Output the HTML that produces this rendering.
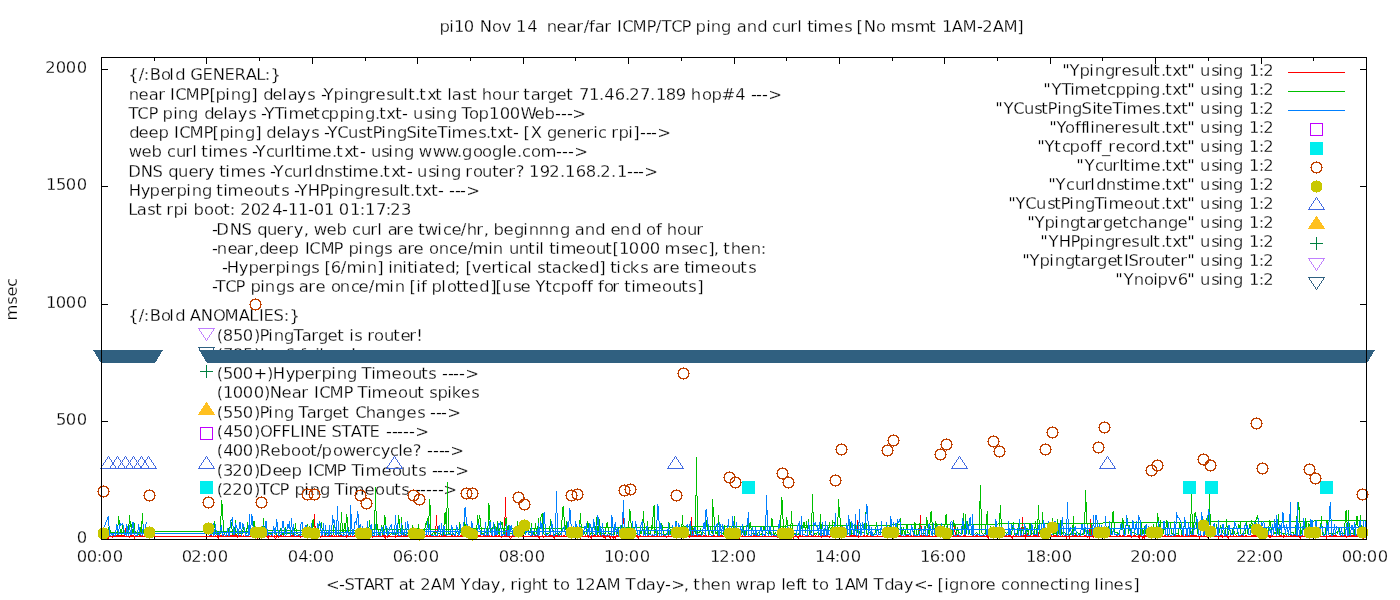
<!DOCTYPE html>
<html lang="en"><head><meta charset="utf-8"><title>pi10 Nov 14 near/far ICMP/TCP ping and curl times</title>
<style>html,body{margin:0;padding:0;background:#fff;overflow:hidden}svg{display:block}text{white-space:pre;font-family:"DejaVu Sans","Liberation Sans",sans-serif;font-size:16.4px;fill:#000;stroke:#fff;stroke-width:0.26px}.c{shape-rendering:crispEdges}</style></head><body>
<svg width="1400" height="600" viewBox="0 0 1400 600">
<rect width="1400" height="600" fill="#fff"/>
<defs>
<path id="oc" class="c" d="M-3 -5h7v1h-7zM-3 5h7v1h-7zM-4 -4h2v1h-2zM3 -4h2v1h-2zM-4 4h2v1h-2zM3 4h2v1h-2zM-5 -3h2v1h-2zM4 -3h2v1h-2zM-5 3h2v1h-2zM4 3h2v1h-2zM-5 -2h1v5h-1zM5 -2h1v5h-1zM0 -6h1v1h-1zM0 6h1v1h-1zM-6 0h1v1h-1zM6 0h1v1h-1z"/>
<path id="fc" class="c" d="M-3 -5h7v1h-7zM-4 -4h9v1h-9zM-5 -3h11v7h-11zM-4 4h9v1h-9zM-3 5h7v1h-7zM0 -6h1v1h-1zM0 6h1v1h-1z"/>
<path id="tu" class="c" d="M0 -8h1v1h-1zM-1 -7h1v1h-1zM1 -7h1v1h-1zM-1 -6h1v1h-1zM1 -6h1v1h-1zM-2 -5h1v1h-1zM2 -5h1v1h-1zM-3 -4h1v1h-1zM3 -4h1v1h-1zM-3 -3h1v1h-1zM3 -3h1v1h-1zM-4 -2h1v1h-1zM4 -2h1v1h-1zM-5 -1h1v1h-1zM5 -1h1v1h-1zM-5 0h1v1h-1zM5 0h1v1h-1zM-6 1h1v1h-1zM6 1h1v1h-1zM-7 2h1v1h-1zM7 2h1v1h-1zM-7 3h1v1h-1zM7 3h1v1h-1zM-8 4h17v1h-17z"/>
<path id="td" class="c" d="M-8 -4h17v1h-17zM-7 -3h1v1h-1zM7 -3h1v1h-1zM-7 -2h1v1h-1zM7 -2h1v1h-1zM-6 -1h1v1h-1zM6 -1h1v1h-1zM-5 0h1v1h-1zM5 0h1v1h-1zM-5 1h1v1h-1zM5 1h1v1h-1zM-4 2h1v1h-1zM4 2h1v1h-1zM-3 3h1v1h-1zM3 3h1v1h-1zM-3 4h1v1h-1zM3 4h1v1h-1zM-2 5h1v1h-1zM2 5h1v1h-1zM-1 6h1v1h-1zM1 6h1v1h-1zM-1 7h1v1h-1zM1 7h1v1h-1zM0 8h1v1h-1z"/>
<path id="tf" class="c" d="M0 -8h1v1h-1zM-1 -7h3v1h-3zM-1 -6h3v1h-3zM-2 -5h5v1h-5zM-3 -4h7v1h-7zM-3 -3h7v1h-7zM-4 -2h9v1h-9zM-5 -1h11v1h-11zM-5 0h11v1h-11zM-6 1h13v1h-13zM-7 2h15v1h-15zM-7 3h15v1h-15zM-8 4h17v1h-17z"/>
<path id="pl" class="c" d="M-6 0h13v1h-13zM0 -6h1v13h-1z"/>
<path id="sq" class="c" d="M-6 -6h13v1h-13zM-6 6h13v1h-13zM-6 -6h1v13h-1zM6 -6h1v13h-1z"/>
<path id="sf" class="c" d="M-6 -6h13v13h-13z"/>
</defs>
<text x="439.47 449.3 454.03 463.79 475 479.84 491.97 501.74 511 516.03 527.24 537 542 546.72 556.52 566.76 576.35 583.73 589 594.76 604.35 612 617.1 622.16 632.38 646.52 655.73 661.49 671.16 681.52 691 695.47 706.3 710.72 721.12 732 736.76 746.72 757.15 767 772.08 781 790.35 797.3 802 807.32 813.3 817.4 833.52 844.17 852 856.44 863.84 875.97 886 890.4 906.17 914.4 929.32 937 942.03 951.87 962.38 977.04 982.33 992.87 1003.38 1017.27" y="32" xml:space="preserve">pi10 Nov 14  near/far ICMP/TCP ping and curl times [No msmt 1AM-2AM]</text>
<text x="325.93 339.04 344.57 354.49 363.87 373.62 383.49 394 398.76 408.32 416 420.33 430.87 441.38 456 460.46 471.15 480.76 490.73 500.67 506 510.35 517.3 522.12 531.75 541.32 549 553.32 559.97 570 575.03 585.33 595.87 606.38 621 625.49 636.15 645.76 655.73 665.04 671.33 683.67 689 693.32 700.75 710.52 720.72 731 735.69 749.35 755.76 765.47 776 781.3 785.52 796 800.32 808 812.32 818.97 829 834.03 844.87 854.38 869 873.49 884.15 893.76 903.73 913.93 927.04 933 937.44 944.3 949.12 958.72 969.97 979.35 985.52 996 1001.08 1009.97 1019.72 1029.72 1039.52 1050.08 1058.32 1064.3 1069.72 1080.12 1090 1094.3 1099.3 1103.72 1113.52 1124.17 1133.27" y="590" xml:space="preserve">&lt;-START at 2AM Yday, right to 12AM Tday-&gt;, then wrap left to 1AM Tday&lt;- [ignore connecting lines]</text>
<text transform="translate(17,320) rotate(-90)" x="-0.6 15.17 23.52 33.08" y="0" xml:space="preserve">msec</text>
<text x="76.79" y="543" xml:space="preserve">0</text>
<text x="55.98 65.79 76.79" y="425" xml:space="preserve">500</text>
<text x="46.03 55.79 65.79 76.79" y="308" xml:space="preserve">1000</text>
<text x="46.03 55.98 65.79 76.79" y="190" xml:space="preserve">1500</text>
<text x="45.33 55.79 65.79 76.79" y="73" xml:space="preserve">2000</text>
<text x="76.79 86.79 96.68 101.79 112.79" y="562" xml:space="preserve">00:00</text>
<text x="181.79 191.33 201.68 206.79 217.79" y="562" xml:space="preserve">02:00</text>
<text x="287.79 298.24 307.68 312.79 323.79" y="562" xml:space="preserve">04:00</text>
<text x="392.79 402.76 412.68 417.79 428.79" y="562" xml:space="preserve">06:00</text>
<text x="498.79 508.8 518.68 523.79 534.79" y="562" xml:space="preserve">08:00</text>
<text x="604.03 613.79 623.68 628.79 639.79" y="562" xml:space="preserve">10:00</text>
<text x="710.03 719.33 729.68 734.79 745.79" y="562" xml:space="preserve">12:00</text>
<text x="815.03 825.24 834.68 839.79 850.79" y="562" xml:space="preserve">14:00</text>
<text x="920.03 929.76 939.68 944.79 955.79" y="562" xml:space="preserve">16:00</text>
<text x="1026.03 1035.8 1045.68 1050.79 1061.79" y="562" xml:space="preserve">18:00</text>
<text x="1130.33 1140.79 1150.68 1155.79 1166.79" y="562" xml:space="preserve">20:00</text>
<text x="1236.33 1246.33 1256.68 1261.79 1272.79" y="562" xml:space="preserve">22:00</text>
<text x="1341.79 1351.79 1361.68 1366.79 1377.79" y="562" xml:space="preserve">00:00</text>
<text x="128.22 138.73 143.68 149.86 160.97 169.3 175.15 185 190.13 202.55 212.84 224.55 234.62 245.87 256.19 264.68 270.38" y="80" xml:space="preserve">{/:Bold GENERAL:}</text>
<text x="128.72 138.52 148.76 158.35 165 170.1 175.16 185.38 199.52 209.44 215.47 225.3 230.72 241.12 251.27 258 263.15 272.52 282.3 287.76 296.73 307.17 315 321.04 323.46 333.47 344.3 348.72 359.12 368.35 375.52 386.17 394 403.3 408.32 414.89 419.32 427.19 435.32 443 447.3 451.76 462.17 470.32 477 481.75 491.97 502 512.35 519 523.32 530.76 540.35 547.12 556.52 566.32 574 578.94 589.03 598.89 604.24 614.76 624.89 629.33 639.94 649.89 656.03 665.8 675.82 686 690.75 701.97 711.47 721.62 735.24 745 751.04 756.04 762.04 768.33" y="100" xml:space="preserve">near ICMP[ping] delays -Ypingresult.txt last hour target 71.46.27.189 hop#4 ---&gt;</text>
<text x="128.49 137.16 148.52 158 162.47 173.3 177.72 188.12 199 204.15 213.52 223.3 227.76 237.73 248.17 256 261.04 264.46 274.49 283.3 288.4 304.52 313.32 321.08 328.47 339.47 349.3 353.72 365.12 374.89 379.32 386.19 395.32 402.04 408 413 424.17 431.3 435.72 447.12 457 461.49 468.97 478.47 489.03 499.79 509.79 520.52 534.52 544.47 555.04 561.04 567.04 572.33" y="119" xml:space="preserve">TCP ping delays -YTimetcpping.txt- using Top100Web---&gt;</text>
<text x="129.15 138.52 148.52 158.47 169 174.1 179.16 189.38 203.52 212.44 219.47 229.3 233.72 245.12 255.27 261 266.15 276.52 286.3 290.76 300.73 311.17 319 324.04 327.46 337.16 348 358.17 366.32 372.52 381.3 386.72 397.12 406.57 416.3 421.32 427.52 437.49 447.3 451.4 467.52 478.17 485.89 490.32 497.19 506.32 513.04 519 523.44 530.82 542 547.12 556.52 566.72 576.52 586.35 593.3 598.08 607 611.35 618.47 628.3 633.27 640.04 646.04 651.04 657.33" y="138" xml:space="preserve">deep ICMP[ping] delays -YCustPingSiteTimes.txt- [X generic rpi]---&gt;</text>
<text x="128.69 141.52 151.47 162 167.08 176 185.35 192.3 197 201.32 208.3 212.4 228.52 239.17 247 252.04 255.46 266.08 274 284.35 290.3 295.32 301.3 306.4 321.52 331.89 336.32 344.19 352.32 360.04 366 371 381.17 388.3 393.72 404.12 414 418.69 432.69 445.69 456.89 462.12 472.97 481.97 492.12 502.3 506.52 516.89 522.08 530.97 540.4 556.04 562.04 568.04 574.33" y="157" xml:space="preserve">web curl times -Ycurltime.txt- using www.google.com---&gt;</text>
<text x="128.29 140.84 152.57 163 168.16 178 188.52 198.35 204.73 215 219.32 225.3 230.4 246.52 257.17 265 270.04 273.46 284.08 292 302.35 308.3 314.15 323.72 334.17 342.32 348.3 352.4 368.52 378.89 383.32 391.19 399.32 407.04 412 417 428.17 435.3 440.72 451.12 461 465.35 472.97 482 492.32 498.52 508.35 515.71 524 529.03 539.82 549.33 559.89 565.03 575.76 585.8 595.89 600.33 610.89 617.03 627.04 633.04 638.04 644.33" y="177" xml:space="preserve">DNS query times -Ycurldnstime.txt- using router? 192.168.2.1---&gt;</text>
<text x="128.84 140.73 149.47 160.52 169.35 176.47 186.3 191.72 202.12 212 216.32 223.3 227.4 243.52 253.97 264 273.32 281.17 289 294.04 297.46 307.84 319.52 328.47 339.3 343.72 354.12 364.35 370.52 381.17 389 399.3 403.32 409.89 415.32 422.19 431.32 438.04 444 449.04 455.04 460.04 466.33" y="196" xml:space="preserve">Hyperping timeouts -YHPpingresult.txt- ---&gt;</text>
<text x="128.19 136.76 147.17 155.32 162 166.35 173.47 183.3 189 193.47 203.97 213.97 223.32 229.68 236 240.33 250.79 260.33 272.24 282.04 288.03 298.03 308.04 313.79 324.03 334 338.79 350.03 359.68 365.03 375.94 385.68 390.33 400.95" y="215" xml:space="preserve">Last rpi boot: 2024-11-01 01:17:23</text>
<text x="212.04 216.29 229.84 241.57 252 257.16 267 276.52 286.35 293.73 303.67 309 313.69 326.52 336.47 347 352.08 361 370.35 377.3 382 387.76 396.35 403.52 414 418.32 424.69 437.3 443.08 451.52 460.73 466.75 476.35 483.67 489 493.47 503.52 514.12 523.3 528.72 538.72 548.72 560.12 570 574.76 584.72 595.15 605 610.52 619.72 631.15 641 645.97 656 662 666.75 676.97 687 696.35" y="235" xml:space="preserve">-DNS query, web curl are twice/hr, beginnng and end of hour</text>
<text x="212.04 216.72 227.52 236.76 246.35 253.67 259.15 268.52 278.52 288.47 300 305.1 309.16 320.38 333.52 344 348.47 358.3 363.72 374.12 384.17 393 397.76 407.35 413.52 424 428.97 438.72 449.08 457.52 467.73 472.4 488.3 492.72 504 509 518.72 528.32 535.3 539.3 545 549.32 555.3 560.4 575.52 585.97 596 605.32 612.44 619.03 628.79 639.79 649.79 660 664.4 681.17 688.52 699.08 708.27 713.67 719 723.32 730.75 740.52 750.72 760.68" y="254" xml:space="preserve">-near,deep ICMP pings are once/min until timeout[1000 msec], then:</text>
<text x="222.04 226.84 238.73 248.47 258.52 268.35 275.47 285.3 290.72 301.12 311.17 319 324.44 330.76 340.73 346.4 361.3 366.72 377.27 383 388.3 392.72 402.3 407.32 413.3 418.76 428.32 434.52 445.15 454.66 461 465.44 471.74 481.52 491.35 497.32 504.3 509.08 517.76 527.3 532 537.17 545.32 551.76 562.08 570.69 578.52 589.15 599.27 606 610.32 616.3 622.08 629.69 640.17 648 652.76 662.35 669.52 679 684.32 690.3 694.4 710.52 720.97 731 740.32 748.17" y="273" xml:space="preserve">-Hyperpings [6/min] initiated; [vertical stacked] ticks are timeouts</text>
<text x="212.04 215.49 225.16 235.52 245 250.47 260.3 264.72 276.12 286.17 294 298.76 308.35 315.52 325 330.97 339.72 351.08 358.52 368.73 374.4 389.3 394.72 405 409.44 416.3 421 427 431.47 441.3 446.97 456.32 462.32 468.52 479.15 490.27 495.44 502 513.17 520.52 531 535.46 545.32 552.08 560.47 570.97 581 587 593 598 603.97 612.35 620 624.32 631.3 635.4 651.52 661.97 672 681.32 688.17 697.27" y="292" xml:space="preserve">-TCP pings are once/min [if plotted][use Ytcpoff for timeouts]</text>
<text x="128.22 138.73 143.68 149.86 160.97 169.3 175.15 185 189.87 200.84 213.04 224.38 238.87 249.19 259.1 263.55 273.57 283.68 289.38" y="321" xml:space="preserve">{/:Bold ANOMALIES:}</text>
<text x="216.63 222.8 232.98 242.79 254 259.52 268.3 273.72 284.12 293.49 301.76 311.35 318.12 327.52 337.32 345 349.3 354.17 362 367.35 373.97 384 393.32 400.52 409.35 416.26" y="341" xml:space="preserve">(850)PingTarget is router!</text>
<text x="216.63 222.94 232.8 242.98 254 260.1 264.47 274.74 284.76 295 300 305.76 315.3 319.3 325 334.35 340.52 350.26" y="360" xml:space="preserve">(785)Ipv6 failure!</text>
<text x="216.63 222.98 232.79 242.79 253.61 267 272.84 285.73 294.47 304.52 314.35 321.47 331.3 336.72 347.12 357 361.49 371.3 375.4 391.52 401.97 412 421.32 428.17 437 442.04 448.04 453.04 459.04 465.33" y="379" xml:space="preserve">(500+)Hyperping Timeouts ----&gt;</text>
<text x="216.63 223.03 232.79 242.79 253.79 264 269.84 281.52 291.76 301.35 309 314.1 319.16 329.38 343.52 353 357.49 367.3 371.4 387.52 397.97 408 417.32 424 429.17 437.47 447.3 451.69 460.52 471.17" y="398" xml:space="preserve">(1000)Near ICMP Timeout spikes</text>
<text x="216.63 222.98 232.98 242.79 254 259.52 268.3 273.72 284.12 294 298.49 306.76 316.35 323.12 332.52 342.32 350 355.16 365.75 375.76 385.72 396.12 406.52 417.17 425 430.04 436.04 441.04 447.33" y="418" xml:space="preserve">(550)Ping Target Changes ---&gt;</text>
<text x="216.63 223.24 232.98 242.79 254 260.04 272.29 281.29 290.19 300.1 304.84 316.55 327 331.57 341.49 350.87 360.49 369.55 381 386.04 392.04 397.04 403.04 409.04 415.33" y="437" xml:space="preserve">(450)OFFLINE STATE -----&gt;</text>
<text x="216.63 223.24 232.79 242.79 254 259.62 270.52 280.47 290.97 300.97 310.32 316.73 321.47 332.97 342.69 355.52 365.35 372.08 380.73 390.08 398.3 402.52 412.71 422 427.04 433.04 439.04 444.04 450.33" y="456" xml:space="preserve">(400)Reboot/powercycle? ----&gt;</text>
<text x="216.63 222.95 232.33 242.79 254 259.29 272.52 281.52 291.47 303 308.1 313.16 323.38 336.52 347 351.49 360.3 365.4 381.52 391.97 401 411.32 418.17 426 432.04 437.04 443.04 449.04 455.33" y="476" xml:space="preserve">(320)Deep ICMP Timeouts ----&gt;</text>
<text x="216.63 222.33 232.33 242.79 254 259.49 269.16 279.52 290 294.47 304.3 309.72 320.12 330 334.49 344.3 348.4 364.52 374.97 385 394.32 401.17 409 415.04 420.04 426.04 432.04 438.04 443.33" y="495" xml:space="preserve">(220)TCP ping Timeouts -----&gt;</text>
<text x="1062.3 1069.46 1079.47 1089.3 1094.72 1105.12 1114.35 1121.52 1131.17 1140 1149.3 1153.32 1160.89 1165.32 1172.19 1181.32 1187.3 1195 1200 1211.17 1218.3 1222.72 1233.12 1244 1249.03 1258.68 1263.33" y="76" xml:space="preserve">"Ypingresult.txt" using 1:2</text>
<text x="1043.3 1051.46 1061.49 1070.3 1074.4 1090.52 1100.32 1107.08 1115.47 1125.47 1135.3 1139.72 1150.12 1160.89 1165.32 1172.19 1181.32 1187.3 1195 1200 1211.17 1218.3 1222.72 1233.12 1244 1249.03 1258.68 1263.33" y="95" xml:space="preserve">"YTimetcpping.txt" using 1:2</text>
<text x="995.3 1003.46 1013.16 1024 1034.17 1041.32 1047.52 1057.3 1061.72 1072.12 1081.57 1092.3 1096.32 1102.52 1112.49 1122.3 1126.4 1142.52 1152.17 1160.89 1165.32 1172.19 1181.32 1187.3 1195 1200 1211.17 1218.3 1222.72 1233.12 1244 1249.03 1258.68 1263.33" y="114" xml:space="preserve">"YCustPingSiteTimes.txt" using 1:2</text>
<text x="1049.3 1056.46 1064.97 1075 1081 1085.3 1090.3 1094.72 1104.52 1114.35 1121.52 1131.17 1140 1149.3 1153.32 1160.89 1165.32 1172.19 1181.32 1187.3 1195 1200 1211.17 1218.3 1222.72 1233.12 1244 1249.03 1258.68 1263.33" y="133" xml:space="preserve">"Yofflineresult.txt" using 1:2</text>
<text x="1037.3 1044.46 1054.32 1062.08 1069.47 1079.97 1090 1096 1101.89 1108.35 1115.52 1126.08 1133.97 1143.35 1150.15 1160.89 1165.32 1172.19 1181.32 1187.3 1195 1200 1211.17 1218.3 1222.72 1233.12 1244 1249.03 1258.68 1263.33" y="152" xml:space="preserve">"Ytcpoff_record.txt" using 1:2</text>
<text x="1076.3 1084.46 1095.08 1103 1112.35 1119.3 1123.32 1130.3 1134.4 1150.52 1160.89 1165.32 1172.19 1181.32 1187.3 1195 1200 1211.17 1218.3 1222.72 1233.12 1244 1249.03 1258.68 1263.33" y="171" xml:space="preserve">"Ycurltime.txt" using 1:2</text>
<text x="1048.3 1055.46 1066.08 1075 1084.35 1090.3 1096.15 1105.72 1116.17 1123.32 1130.3 1134.4 1150.52 1160.89 1165.32 1172.19 1181.32 1187.3 1195 1200 1211.17 1218.3 1222.72 1233.12 1244 1249.03 1258.68 1263.33" y="190" xml:space="preserve">"Ycurldnstime.txt" using 1:2</text>
<text x="1008.3 1015.46 1025.16 1036 1047.17 1054.32 1060.52 1069.3 1074.72 1085.12 1094.49 1103.3 1108.4 1123.52 1133.97 1144 1153.32 1160.89 1165.32 1172.19 1181.32 1187.3 1195 1200 1211.17 1218.3 1222.72 1233.12 1244 1249.03 1258.68 1263.33" y="209" xml:space="preserve">"YCustPingTimeout.txt" using 1:2</text>
<text x="1027.3 1034.46 1044.47 1054.3 1059.72 1070.12 1079.32 1086.76 1095.35 1103.12 1112.52 1122.32 1129.08 1137.75 1147.76 1157.72 1168.12 1177.52 1187.3 1195 1200 1211.17 1218.3 1222.72 1233.12 1244 1249.03 1258.68 1263.33" y="228" xml:space="preserve">"Ypingtargetchange" using 1:2</text>
<text x="1040.3 1048.46 1058.84 1070.52 1079.47 1089.3 1094.72 1105.12 1114.35 1121.52 1131.17 1140 1149.3 1153.32 1160.89 1165.32 1172.19 1181.32 1187.3 1195 1200 1211.17 1218.3 1222.72 1233.12 1244 1249.03 1258.68 1263.33" y="247" xml:space="preserve">"YHPpingresult.txt" using 1:2</text>
<text x="1022.3 1029.46 1039.47 1049.3 1054.72 1065.12 1074.32 1080.76 1090.35 1097.12 1107.52 1116.32 1124.1 1128.57 1138.35 1144.97 1155 1164.32 1170.52 1180.35 1187.3 1195 1200 1211.17 1218.3 1222.72 1233.12 1244 1249.03 1258.68 1263.33" y="266" xml:space="preserve">"YpingtargetISrouter" using 1:2</text>
<text x="1115.3 1123.46 1133.72 1143.97 1153.3 1157.47 1167.74 1177.76 1187.3 1195 1200 1211.17 1218.3 1222.72 1233.12 1244 1249.03 1258.68 1263.33" y="285" xml:space="preserve">"Ynoipv6" using 1:2</text>
<path class="c" d="M101 539h7v1h-7zM1360 539h7v1h-7zM101 421h7v1h-7zM1360 421h7v1h-7zM101 304h7v1h-7zM1360 304h7v1h-7zM101 186h7v1h-7zM1360 186h7v1h-7zM101 69h7v1h-7zM1360 69h7v1h-7zM101 533h1v7h-1zM101 57h1v7h-1zM154 536h1v4h-1zM154 57h1v4h-1zM206 533h1v7h-1zM206 57h1v7h-1zM259 536h1v4h-1zM259 57h1v4h-1zM312 533h1v7h-1zM312 57h1v7h-1zM365 536h1v4h-1zM365 57h1v4h-1zM417 533h1v7h-1zM417 57h1v7h-1zM470 536h1v4h-1zM470 57h1v4h-1zM523 533h1v7h-1zM523 57h1v7h-1zM575 536h1v4h-1zM575 57h1v4h-1zM628 533h1v7h-1zM628 57h1v7h-1zM681 536h1v4h-1zM681 57h1v4h-1zM734 533h1v7h-1zM734 57h1v7h-1zM786 536h1v4h-1zM786 57h1v4h-1zM839 533h1v7h-1zM839 57h1v7h-1zM892 536h1v4h-1zM892 57h1v4h-1zM944 533h1v7h-1zM944 57h1v7h-1zM997 536h1v4h-1zM997 57h1v4h-1zM1050 533h1v7h-1zM1050 57h1v7h-1zM1102 536h1v4h-1zM1102 57h1v4h-1zM1155 533h1v7h-1zM1155 57h1v7h-1zM1208 536h1v4h-1zM1208 57h1v4h-1zM1261 533h1v7h-1zM1261 57h1v7h-1zM1313 536h1v4h-1zM1313 57h1v4h-1zM1366 533h1v7h-1zM1366 57h1v7h-1z" fill="#000"/>
<path class="c" d="M103 536v2h1v-2zM104 536v2h1v-2zM105 536v2h1v-2zM108 536v3h1v-3zM110 535v2h1v-2zM112 536v2h1v-2zM113 535v2h1v-2zM114 535v2h1v-2zM115 535v2h1v-2zM116 535v2h1v-2zM117 535v2h1v-2zM118 535v2h1v-2zM119 535v2h1v-2zM120 535v2h1v-2zM121 535v2h1v-2zM122 535v2h1v-2zM123 535v2h1v-2zM124 532v5h1v-5zM125 528v5h1v-5zM126 533v4h1v-4zM129 536v2h1v-2zM130 535v2h1v-2zM131 535v2h1v-2zM132 535v2h1v-2zM133 535v2h1v-2zM134 536v3h1v-3zM135 535v2h1v-2zM136 535v2h1v-2zM137 535v2h1v-2zM139 535v2h1v-2zM140 535v2h1v-2zM141 535v2h1v-2zM142 535v2h1v-2zM144 535v2h1v-2zM145 535v2h1v-2zM146 535v2h1v-2zM210 535v2h1v-2zM211 535v2h1v-2zM213 535v2h1v-2zM215 535v2h1v-2zM217 535v3h1v-3zM218 535v4h1v-4zM219 535v2h1v-2zM220 535v2h1v-2zM221 535v2h1v-2zM222 535v2h1v-2zM223 535v2h1v-2zM227 535v2h1v-2zM228 535v2h1v-2zM229 535v2h1v-2zM230 535v2h1v-2zM231 535v2h1v-2zM232 535v2h1v-2zM233 535v2h1v-2zM234 535v2h1v-2zM235 531v6h1v-6zM236 534v3h1v-3zM237 535v3h1v-3zM238 535v2h1v-2zM239 535v2h1v-2zM240 535v2h1v-2zM243 535v2h1v-2zM245 535v2h1v-2zM246 535v2h1v-2zM250 535v2h1v-2zM252 535v2h1v-2zM253 535v2h1v-2zM255 535v2h1v-2zM256 535v2h1v-2zM257 535v4h1v-4zM259 535v2h1v-2zM260 535v2h1v-2zM263 535v2h1v-2zM264 535v2h1v-2zM266 535v2h1v-2zM267 535v3h1v-3zM268 535v4h1v-4zM271 535v2h1v-2zM274 535v3h1v-3zM276 535v3h1v-3zM277 535v2h1v-2zM278 535v3h1v-3zM280 535v2h1v-2zM281 535v2h1v-2zM283 535v2h1v-2zM290 535v2h1v-2zM291 535v2h1v-2zM292 535v2h1v-2zM293 535v2h1v-2zM294 535v2h1v-2zM296 535v2h1v-2zM298 535v2h1v-2zM299 535v2h1v-2zM300 535v3h1v-3zM302 535v2h1v-2zM303 535v2h1v-2zM304 535v2h1v-2zM306 535v2h1v-2zM307 535v2h1v-2zM308 535v2h1v-2zM309 535v2h1v-2zM310 535v2h1v-2zM312 535v2h1v-2zM314 514v23h1v-23zM315 526v12h1v-12zM316 535v2h1v-2zM317 535v2h1v-2zM319 535v2h1v-2zM320 536v2h1v-2zM321 535v2h1v-2zM322 535v2h1v-2zM324 535v2h1v-2zM325 535v2h1v-2zM328 535v2h1v-2zM329 535v2h1v-2zM330 535v2h1v-2zM331 535v2h1v-2zM332 535v2h1v-2zM334 535v2h1v-2zM336 535v2h1v-2zM338 535v2h1v-2zM340 535v2h1v-2zM341 535v2h1v-2zM342 535v2h1v-2zM345 535v2h1v-2zM346 535v3h1v-3zM347 535v2h1v-2zM348 535v2h1v-2zM350 535v2h1v-2zM354 535v2h1v-2zM355 535v2h1v-2zM358 535v2h1v-2zM362 535v2h1v-2zM363 535v2h1v-2zM365 535v3h1v-3zM366 535v2h1v-2zM369 535v2h1v-2zM371 535v2h1v-2zM372 535v3h1v-3zM378 535v2h1v-2zM379 535v2h1v-2zM380 535v2h1v-2zM382 535v2h1v-2zM383 535v2h1v-2zM384 535v3h1v-3zM385 535v4h1v-4zM387 536v2h1v-2zM388 535v2h1v-2zM389 535v2h1v-2zM395 535v3h1v-3zM397 535v2h1v-2zM399 535v2h1v-2zM401 535v2h1v-2zM403 535v2h1v-2zM405 535v2h1v-2zM406 535v2h1v-2zM407 535v2h1v-2zM408 535v2h1v-2zM409 535v2h1v-2zM410 535v2h1v-2zM411 535v2h1v-2zM412 535v2h1v-2zM415 535v2h1v-2zM417 535v2h1v-2zM418 536v3h1v-3zM420 535v2h1v-2zM421 535v2h1v-2zM422 535v2h1v-2zM423 535v4h1v-4zM424 535v3h1v-3zM426 535v2h1v-2zM427 535v2h1v-2zM429 535v2h1v-2zM430 534v3h1v-3zM431 535v2h1v-2zM433 535v2h1v-2zM435 526v11h1v-11zM436 515v11h1v-11zM436 535v2h1v-2zM437 526v11h1v-11zM439 535v2h1v-2zM441 535v2h1v-2zM442 535v2h1v-2zM443 535v2h1v-2zM444 535v2h1v-2zM445 535v2h1v-2zM446 535v2h1v-2zM451 535v2h1v-2zM452 535v2h1v-2zM454 535v2h1v-2zM457 535v2h1v-2zM458 535v2h1v-2zM460 535v2h1v-2zM461 535v2h1v-2zM463 535v2h1v-2zM464 535v2h1v-2zM465 535v2h1v-2zM466 535v2h1v-2zM467 535v2h1v-2zM468 535v2h1v-2zM470 535v2h1v-2zM472 535v2h1v-2zM473 535v2h1v-2zM474 535v2h1v-2zM477 535v2h1v-2zM478 535v2h1v-2zM479 535v2h1v-2zM480 535v2h1v-2zM483 535v2h1v-2zM484 535v2h1v-2zM485 535v2h1v-2zM486 535v2h1v-2zM487 535v2h1v-2zM489 535v2h1v-2zM491 535v2h1v-2zM495 535v2h1v-2zM496 535v2h1v-2zM498 535v2h1v-2zM499 535v2h1v-2zM501 535v3h1v-3zM504 517v20h1v-20zM505 497v20h1v-20zM506 517v20h1v-20zM507 535v2h1v-2zM509 535v3h1v-3zM511 536v2h1v-2zM512 535v2h1v-2zM513 535v2h1v-2zM514 535v2h1v-2zM517 535v2h1v-2zM519 535v2h1v-2zM521 535v2h1v-2zM530 535v2h1v-2zM531 535v2h1v-2zM532 535v2h1v-2zM535 535v2h1v-2zM536 535v2h1v-2zM537 535v2h1v-2zM538 535v3h1v-3zM539 536v3h1v-3zM542 535v2h1v-2zM543 536v2h1v-2zM545 535v2h1v-2zM546 535v2h1v-2zM548 535v2h1v-2zM549 535v2h1v-2zM550 534v3h1v-3zM551 535v2h1v-2zM552 535v2h1v-2zM553 536v2h1v-2zM554 535v4h1v-4zM555 535v2h1v-2zM556 535v2h1v-2zM557 535v2h1v-2zM558 535v2h1v-2zM559 535v2h1v-2zM561 535v2h1v-2zM563 535v2h1v-2zM564 535v2h1v-2zM566 535v2h1v-2zM567 535v2h1v-2zM568 535v2h1v-2zM569 535v2h1v-2zM570 535v2h1v-2zM571 535v3h1v-3zM572 535v2h1v-2zM573 535v2h1v-2zM574 535v2h1v-2zM575 535v2h1v-2zM576 535v2h1v-2zM577 535v2h1v-2zM578 535v2h1v-2zM579 535v2h1v-2zM580 535v4h1v-4zM581 535v2h1v-2zM582 535v2h1v-2zM585 535v2h1v-2zM587 535v2h1v-2zM588 535v3h1v-3zM589 535v2h1v-2zM590 536v2h1v-2zM591 535v4h1v-4zM593 535v2h1v-2zM594 535v2h1v-2zM595 535v2h1v-2zM597 535v2h1v-2zM598 535v2h1v-2zM600 535v2h1v-2zM601 535v2h1v-2zM602 535v2h1v-2zM603 535v3h1v-3zM604 535v3h1v-3zM605 535v4h1v-4zM607 535v2h1v-2zM609 535v3h1v-3zM610 536v3h1v-3zM611 535v2h1v-2zM612 536v2h1v-2zM613 535v4h1v-4zM614 536v2h1v-2zM615 536v3h1v-3zM616 535v2h1v-2zM617 535v2h1v-2zM618 535v2h1v-2zM620 535v2h1v-2zM622 523v14h1v-14zM623 510v14h1v-14zM624 524v13h1v-13zM625 535v4h1v-4zM626 535v2h1v-2zM627 535v2h1v-2zM628 535v2h1v-2zM632 535v2h1v-2zM633 535v2h1v-2zM635 535v2h1v-2zM636 535v2h1v-2zM637 535v3h1v-3zM638 536v3h1v-3zM639 535v2h1v-2zM640 535v2h1v-2zM647 535v2h1v-2zM648 535v2h1v-2zM652 535v2h1v-2zM654 535v2h1v-2zM657 535v2h1v-2zM659 535v2h1v-2zM661 535v2h1v-2zM663 535v2h1v-2zM664 535v2h1v-2zM666 536v2h1v-2zM668 535v2h1v-2zM671 535v2h1v-2zM672 535v2h1v-2zM673 535v2h1v-2zM674 535v2h1v-2zM675 535v2h1v-2zM676 535v2h1v-2zM679 535v2h1v-2zM680 535v2h1v-2zM681 535v2h1v-2zM682 535v2h1v-2zM683 535v2h1v-2zM685 535v2h1v-2zM686 535v2h1v-2zM688 535v2h1v-2zM689 535v3h1v-3zM690 527v10h1v-10zM691 517v10h1v-10zM692 527v10h1v-10zM694 535v2h1v-2zM695 535v2h1v-2zM696 535v2h1v-2zM697 535v2h1v-2zM698 535v2h1v-2zM699 535v2h1v-2zM700 535v2h1v-2zM701 535v2h1v-2zM703 535v2h1v-2zM704 535v2h1v-2zM706 535v2h1v-2zM708 535v2h1v-2zM712 535v2h1v-2zM713 535v2h1v-2zM714 535v2h1v-2zM717 535v2h1v-2zM720 535v2h1v-2zM721 535v2h1v-2zM722 535v2h1v-2zM725 535v2h1v-2zM726 535v3h1v-3zM728 535v2h1v-2zM730 535v2h1v-2zM731 535v2h1v-2zM732 535v2h1v-2zM733 535v2h1v-2zM734 535v2h1v-2zM735 536v2h1v-2zM736 535v2h1v-2zM737 535v2h1v-2zM738 535v3h1v-3zM739 535v4h1v-4zM742 535v2h1v-2zM748 535v2h1v-2zM750 535v2h1v-2zM751 535v2h1v-2zM753 535v2h1v-2zM754 535v2h1v-2zM756 535v2h1v-2zM762 535v2h1v-2zM764 535v2h1v-2zM771 535v2h1v-2zM773 535v2h1v-2zM774 535v2h1v-2zM775 535v2h1v-2zM776 535v2h1v-2zM777 536v2h1v-2zM779 535v2h1v-2zM781 535v2h1v-2zM782 535v2h1v-2zM783 535v2h1v-2zM784 535v2h1v-2zM785 535v2h1v-2zM788 535v2h1v-2zM792 535v3h1v-3zM793 535v4h1v-4zM795 535v2h1v-2zM797 536v2h1v-2zM798 536v3h1v-3zM799 535v2h1v-2zM800 535v2h1v-2zM802 535v2h1v-2zM805 535v2h1v-2zM806 535v2h1v-2zM808 535v2h1v-2zM811 535v2h1v-2zM813 535v2h1v-2zM815 535v2h1v-2zM818 535v2h1v-2zM821 536v2h1v-2zM822 535v2h1v-2zM824 535v2h1v-2zM825 535v2h1v-2zM826 535v2h1v-2zM827 535v2h1v-2zM829 536v2h1v-2zM830 535v2h1v-2zM832 535v2h1v-2zM833 535v2h1v-2zM835 535v4h1v-4zM836 535v2h1v-2zM837 535v2h1v-2zM838 535v2h1v-2zM840 535v2h1v-2zM841 533v2h1v-2zM842 535v2h1v-2zM844 535v2h1v-2zM849 535v2h1v-2zM850 535v2h1v-2zM851 535v2h1v-2zM852 535v2h1v-2zM853 535v2h1v-2zM854 535v2h1v-2zM855 535v2h1v-2zM856 528v9h1v-9zM857 520v9h1v-9zM857 535v2h1v-2zM858 529v9h1v-9zM860 535v2h1v-2zM863 535v2h1v-2zM864 535v2h1v-2zM866 535v2h1v-2zM867 535v2h1v-2zM870 535v2h1v-2zM871 535v2h1v-2zM873 535v2h1v-2zM877 535v2h1v-2zM884 535v2h1v-2zM886 535v3h1v-3zM887 535v4h1v-4zM888 535v2h1v-2zM890 535v2h1v-2zM891 535v2h1v-2zM894 535v2h1v-2zM895 535v2h1v-2zM896 535v2h1v-2zM897 535v2h1v-2zM898 535v2h1v-2zM899 535v2h1v-2zM900 535v2h1v-2zM901 535v2h1v-2zM903 535v2h1v-2zM906 535v2h1v-2zM907 535v2h1v-2zM908 535v2h1v-2zM911 535v2h1v-2zM913 535v2h1v-2zM914 535v2h1v-2zM915 535v2h1v-2zM917 535v2h1v-2zM919 526v11h1v-11zM920 515v11h1v-11zM920 535v2h1v-2zM921 526v11h1v-11zM922 535v2h1v-2zM923 535v2h1v-2zM924 535v2h1v-2zM925 535v2h1v-2zM926 535v2h1v-2zM927 535v2h1v-2zM928 535v2h1v-2zM929 535v2h1v-2zM932 535v2h1v-2zM935 535v2h1v-2zM941 535v2h1v-2zM942 535v2h1v-2zM943 535v2h1v-2zM944 535v2h1v-2zM945 535v2h1v-2zM948 535v2h1v-2zM949 535v2h1v-2zM950 535v2h1v-2zM951 535v2h1v-2zM953 531v6h1v-6zM954 526v6h1v-6zM955 532v5h1v-5zM956 535v2h1v-2zM957 535v2h1v-2zM958 535v2h1v-2zM963 535v2h1v-2zM964 535v2h1v-2zM965 535v2h1v-2zM972 535v2h1v-2zM973 535v2h1v-2zM975 535v2h1v-2zM976 535v2h1v-2zM977 535v2h1v-2zM980 535v2h1v-2zM981 535v2h1v-2zM982 535v2h1v-2zM983 535v2h1v-2zM984 535v2h1v-2zM986 535v2h1v-2zM987 535v3h1v-3zM988 535v4h1v-4zM992 535v2h1v-2zM993 535v2h1v-2zM994 535v2h1v-2zM995 535v2h1v-2zM996 535v2h1v-2zM998 535v2h1v-2zM999 535v2h1v-2zM1000 535v2h1v-2zM1001 535v2h1v-2zM1002 535v2h1v-2zM1004 535v2h1v-2zM1006 535v2h1v-2zM1008 535v2h1v-2zM1009 535v2h1v-2zM1010 535v2h1v-2zM1011 536v2h1v-2zM1012 536v3h1v-3zM1013 535v2h1v-2zM1015 535v2h1v-2zM1016 535v2h1v-2zM1018 535v2h1v-2zM1020 535v2h1v-2zM1021 527v10h1v-10zM1022 517v10h1v-10zM1023 527v10h1v-10zM1024 535v2h1v-2zM1025 534v5h1v-5zM1026 529v5h1v-5zM1026 535v2h1v-2zM1027 533v4h1v-4zM1028 535v2h1v-2zM1030 535v2h1v-2zM1033 535v2h1v-2zM1034 535v2h1v-2zM1035 535v2h1v-2zM1036 535v2h1v-2zM1037 535v2h1v-2zM1038 532v5h1v-5zM1039 527v5h1v-5zM1040 532v5h1v-5zM1041 535v2h1v-2zM1042 528v9h1v-9zM1043 520v9h1v-9zM1044 529v8h1v-8zM1045 535v2h1v-2zM1046 535v2h1v-2zM1047 535v2h1v-2zM1048 535v2h1v-2zM1051 535v2h1v-2zM1053 535v2h1v-2zM1054 535v2h1v-2zM1055 535v2h1v-2zM1056 535v2h1v-2zM1057 535v2h1v-2zM1058 535v2h1v-2zM1060 535v2h1v-2zM1062 535v2h1v-2zM1064 535v2h1v-2zM1065 535v2h1v-2zM1066 536v3h1v-3zM1068 535v2h1v-2zM1069 535v4h1v-4zM1072 535v2h1v-2zM1073 535v2h1v-2zM1074 535v2h1v-2zM1075 535v2h1v-2zM1076 535v2h1v-2zM1077 535v2h1v-2zM1079 535v2h1v-2zM1080 535v2h1v-2zM1084 535v2h1v-2zM1085 535v2h1v-2zM1086 535v2h1v-2zM1087 536v2h1v-2zM1088 535v2h1v-2zM1089 529v10h1v-10zM1090 519v10h1v-10zM1091 528v9h1v-9zM1092 535v2h1v-2zM1093 536v2h1v-2zM1095 535v2h1v-2zM1099 535v2h1v-2zM1101 535v2h1v-2zM1103 535v2h1v-2zM1104 535v2h1v-2zM1105 535v2h1v-2zM1106 535v2h1v-2zM1109 535v2h1v-2zM1110 535v2h1v-2zM1116 535v2h1v-2zM1117 535v2h1v-2zM1119 535v2h1v-2zM1120 535v2h1v-2zM1122 535v2h1v-2zM1123 533v4h1v-4zM1124 530v7h1v-7zM1127 535v2h1v-2zM1128 535v2h1v-2zM1129 535v2h1v-2zM1130 535v2h1v-2zM1131 535v3h1v-3zM1133 535v2h1v-2zM1134 535v2h1v-2zM1135 535v2h1v-2zM1138 535v3h1v-3zM1139 535v4h1v-4zM1140 535v2h1v-2zM1141 535v2h1v-2zM1142 536v3h1v-3zM1143 536v2h1v-2zM1144 535v4h1v-4zM1145 535v2h1v-2zM1146 535v2h1v-2zM1147 535v2h1v-2zM1149 535v2h1v-2zM1150 535v2h1v-2zM1153 535v2h1v-2zM1155 535v2h1v-2zM1159 535v2h1v-2zM1160 535v2h1v-2zM1161 535v2h1v-2zM1164 535v2h1v-2zM1165 535v2h1v-2zM1167 535v2h1v-2zM1168 535v2h1v-2zM1171 535v2h1v-2zM1173 535v2h1v-2zM1174 535v2h1v-2zM1175 535v2h1v-2zM1176 535v2h1v-2zM1177 535v2h1v-2zM1178 535v2h1v-2zM1179 535v2h1v-2zM1181 535v2h1v-2zM1182 535v2h1v-2zM1183 535v2h1v-2zM1185 534v3h1v-3zM1186 531v3h1v-3zM1187 534v3h1v-3zM1188 535v2h1v-2zM1189 535v2h1v-2zM1190 535v2h1v-2zM1191 535v2h1v-2zM1192 535v2h1v-2zM1193 535v2h1v-2zM1194 535v2h1v-2zM1195 535v2h1v-2zM1196 535v2h1v-2zM1198 535v2h1v-2zM1199 536v3h1v-3zM1200 535v2h1v-2zM1201 535v2h1v-2zM1203 535v2h1v-2zM1204 535v2h1v-2zM1207 536v2h1v-2zM1208 535v2h1v-2zM1209 535v2h1v-2zM1211 535v2h1v-2zM1213 535v2h1v-2zM1214 535v2h1v-2zM1215 535v2h1v-2zM1216 535v2h1v-2zM1218 535v4h1v-4zM1220 535v2h1v-2zM1221 535v2h1v-2zM1222 535v3h1v-3zM1225 535v2h1v-2zM1226 535v2h1v-2zM1227 536v2h1v-2zM1228 536v3h1v-3zM1230 535v2h1v-2zM1233 535v2h1v-2zM1236 535v2h1v-2zM1239 535v2h1v-2zM1241 535v2h1v-2zM1242 535v2h1v-2zM1245 535v2h1v-2zM1246 535v2h1v-2zM1251 535v2h1v-2zM1252 535v2h1v-2zM1253 535v2h1v-2zM1254 535v2h1v-2zM1255 535v2h1v-2zM1258 535v2h1v-2zM1259 535v2h1v-2zM1260 535v2h1v-2zM1261 535v2h1v-2zM1262 535v2h1v-2zM1263 535v2h1v-2zM1264 535v2h1v-2zM1265 535v2h1v-2zM1266 535v2h1v-2zM1267 535v2h1v-2zM1268 535v2h1v-2zM1269 535v3h1v-3zM1270 535v3h1v-3zM1271 535v2h1v-2zM1272 535v2h1v-2zM1276 535v2h1v-2zM1279 535v2h1v-2zM1280 535v2h1v-2zM1281 535v2h1v-2zM1283 535v3h1v-3zM1284 535v2h1v-2zM1286 535v2h1v-2zM1288 535v2h1v-2zM1290 535v2h1v-2zM1291 535v2h1v-2zM1292 535v2h1v-2zM1293 535v2h1v-2zM1294 535v2h1v-2zM1295 535v2h1v-2zM1298 535v2h1v-2zM1299 536v2h1v-2zM1300 536v3h1v-3zM1302 535v2h1v-2zM1304 535v2h1v-2zM1306 535v2h1v-2zM1308 535v2h1v-2zM1309 535v2h1v-2zM1311 535v2h1v-2zM1312 535v2h1v-2zM1315 535v2h1v-2zM1317 535v2h1v-2zM1319 535v2h1v-2zM1320 535v2h1v-2zM1323 535v2h1v-2zM1326 535v4h1v-4zM1329 535v2h1v-2zM1330 535v2h1v-2zM1333 535v2h1v-2zM1334 535v2h1v-2zM1335 535v2h1v-2zM1336 535v2h1v-2zM1340 535v2h1v-2zM1341 535v2h1v-2zM1342 535v2h1v-2zM1343 535v2h1v-2zM1344 535v2h1v-2zM1345 535v2h1v-2zM1346 536v2h1v-2zM1347 535v2h1v-2zM1348 535v2h1v-2zM1349 535v2h1v-2zM1351 535v2h1v-2zM1352 535v2h1v-2zM1353 535v2h1v-2zM1354 535v2h1v-2zM1355 535v2h1v-2zM1356 535v2h1v-2zM1358 535v2h1v-2zM1359 535v2h1v-2zM1360 535v3h1v-3zM1361 535v2h1v-2zM1362 535v3h1v-3zM1363 536v3h1v-3zM1364 535v2h1v-2zM1365 535v2h1v-2zM101 536h2v1h-2zM106 536h2v1h-2zM109 536h1v1h-1zM111 536h1v1h-1zM125 536h1v1h-1zM127 536h2v1h-2zM138 536h1v1h-1zM143 536h1v1h-1zM147 536h63v1h-63zM212 536h1v1h-1zM214 536h1v1h-1zM216 536h1v1h-1zM224 536h3v1h-3zM241 536h2v1h-2zM244 536h1v1h-1zM247 536h3v1h-3zM251 536h1v1h-1zM254 536h1v1h-1zM258 536h1v1h-1zM261 536h2v1h-2zM265 536h1v1h-1zM269 536h2v1h-2zM272 536h2v1h-2zM275 536h1v1h-1zM279 536h1v1h-1zM282 536h1v1h-1zM284 536h6v1h-6zM295 536h1v1h-1zM297 536h1v1h-1zM301 536h1v1h-1zM305 536h1v1h-1zM311 536h1v1h-1zM313 536h1v1h-1zM318 536h1v1h-1zM323 536h1v1h-1zM326 536h2v1h-2zM333 536h1v1h-1zM335 536h1v1h-1zM337 536h1v1h-1zM339 536h1v1h-1zM343 536h2v1h-2zM349 536h1v1h-1zM351 536h3v1h-3zM356 536h2v1h-2zM359 536h3v1h-3zM364 536h1v1h-1zM367 536h2v1h-2zM370 536h1v1h-1zM373 536h5v1h-5zM381 536h1v1h-1zM386 536h1v1h-1zM390 536h5v1h-5zM396 536h1v1h-1zM398 536h1v1h-1zM400 536h1v1h-1zM402 536h1v1h-1zM404 536h1v1h-1zM413 536h2v1h-2zM416 536h1v1h-1zM419 536h1v1h-1zM425 536h1v1h-1zM428 536h1v1h-1zM432 536h1v1h-1zM434 536h1v1h-1zM438 536h1v1h-1zM440 536h1v1h-1zM447 536h4v1h-4zM453 536h1v1h-1zM455 536h2v1h-2zM459 536h1v1h-1zM462 536h1v1h-1zM469 536h1v1h-1zM471 536h1v1h-1zM475 536h2v1h-2zM481 536h2v1h-2zM488 536h1v1h-1zM490 536h1v1h-1zM492 536h3v1h-3zM497 536h1v1h-1zM500 536h1v1h-1zM502 536h2v1h-2zM505 536h1v1h-1zM508 536h1v1h-1zM510 536h1v1h-1zM515 536h2v1h-2zM518 536h1v1h-1zM520 536h1v1h-1zM522 536h8v1h-8zM533 536h2v1h-2zM540 536h2v1h-2zM544 536h1v1h-1zM547 536h1v1h-1zM560 536h1v1h-1zM562 536h1v1h-1zM565 536h1v1h-1zM583 536h2v1h-2zM586 536h1v1h-1zM592 536h1v1h-1zM596 536h1v1h-1zM599 536h1v1h-1zM606 536h1v1h-1zM608 536h1v1h-1zM619 536h1v1h-1zM621 536h1v1h-1zM623 536h1v1h-1zM629 536h3v1h-3zM634 536h1v1h-1zM641 536h6v1h-6zM649 536h3v1h-3zM653 536h1v1h-1zM655 536h2v1h-2zM658 536h1v1h-1zM660 536h1v1h-1zM662 536h1v1h-1zM665 536h1v1h-1zM667 536h1v1h-1zM669 536h2v1h-2zM677 536h2v1h-2zM684 536h1v1h-1zM687 536h1v1h-1zM691 536h1v1h-1zM693 536h1v1h-1zM702 536h1v1h-1zM705 536h1v1h-1zM707 536h1v1h-1zM709 536h3v1h-3zM715 536h2v1h-2zM718 536h2v1h-2zM723 536h2v1h-2zM727 536h1v1h-1zM729 536h1v1h-1zM740 536h2v1h-2zM743 536h5v1h-5zM749 536h1v1h-1zM752 536h1v1h-1zM755 536h1v1h-1zM757 536h5v1h-5zM763 536h1v1h-1zM765 536h6v1h-6zM772 536h1v1h-1zM778 536h1v1h-1zM780 536h1v1h-1zM786 536h2v1h-2zM789 536h3v1h-3zM794 536h1v1h-1zM796 536h1v1h-1zM801 536h1v1h-1zM803 536h2v1h-2zM807 536h1v1h-1zM809 536h2v1h-2zM812 536h1v1h-1zM814 536h1v1h-1zM816 536h2v1h-2zM819 536h2v1h-2zM823 536h1v1h-1zM828 536h1v1h-1zM831 536h1v1h-1zM834 536h1v1h-1zM839 536h1v1h-1zM841 536h1v1h-1zM843 536h1v1h-1zM845 536h4v1h-4zM859 536h1v1h-1zM861 536h2v1h-2zM865 536h1v1h-1zM868 536h2v1h-2zM872 536h1v1h-1zM874 536h3v1h-3zM878 536h6v1h-6zM885 536h1v1h-1zM889 536h1v1h-1zM892 536h2v1h-2zM902 536h1v1h-1zM904 536h2v1h-2zM909 536h2v1h-2zM912 536h1v1h-1zM916 536h1v1h-1zM918 536h1v1h-1zM930 536h2v1h-2zM933 536h2v1h-2zM936 536h5v1h-5zM946 536h2v1h-2zM952 536h1v1h-1zM954 536h1v1h-1zM959 536h4v1h-4zM966 536h6v1h-6zM974 536h1v1h-1zM978 536h2v1h-2zM985 536h1v1h-1zM989 536h3v1h-3zM997 536h1v1h-1zM1003 536h1v1h-1zM1005 536h1v1h-1zM1007 536h1v1h-1zM1014 536h1v1h-1zM1017 536h1v1h-1zM1019 536h1v1h-1zM1022 536h1v1h-1zM1029 536h1v1h-1zM1031 536h2v1h-2zM1039 536h1v1h-1zM1043 536h1v1h-1zM1049 536h2v1h-2zM1052 536h1v1h-1zM1059 536h1v1h-1zM1061 536h1v1h-1zM1063 536h1v1h-1zM1067 536h1v1h-1zM1070 536h2v1h-2zM1078 536h1v1h-1zM1081 536h3v1h-3zM1090 536h1v1h-1zM1094 536h1v1h-1zM1096 536h3v1h-3zM1100 536h1v1h-1zM1102 536h1v1h-1zM1107 536h2v1h-2zM1111 536h5v1h-5zM1118 536h1v1h-1zM1121 536h1v1h-1zM1125 536h2v1h-2zM1132 536h1v1h-1zM1136 536h2v1h-2zM1148 536h1v1h-1zM1151 536h2v1h-2zM1154 536h1v1h-1zM1156 536h3v1h-3zM1162 536h2v1h-2zM1166 536h1v1h-1zM1169 536h2v1h-2zM1172 536h1v1h-1zM1180 536h1v1h-1zM1184 536h1v1h-1zM1186 536h1v1h-1zM1197 536h1v1h-1zM1202 536h1v1h-1zM1205 536h2v1h-2zM1210 536h1v1h-1zM1212 536h1v1h-1zM1217 536h1v1h-1zM1219 536h1v1h-1zM1223 536h2v1h-2zM1229 536h1v1h-1zM1231 536h2v1h-2zM1234 536h2v1h-2zM1237 536h2v1h-2zM1240 536h1v1h-1zM1243 536h2v1h-2zM1247 536h4v1h-4zM1256 536h2v1h-2zM1273 536h3v1h-3zM1277 536h2v1h-2zM1282 536h1v1h-1zM1285 536h1v1h-1zM1287 536h1v1h-1zM1289 536h1v1h-1zM1296 536h2v1h-2zM1301 536h1v1h-1zM1303 536h1v1h-1zM1305 536h1v1h-1zM1307 536h1v1h-1zM1310 536h1v1h-1zM1313 536h2v1h-2zM1316 536h1v1h-1zM1318 536h1v1h-1zM1321 536h2v1h-2zM1324 536h2v1h-2zM1327 536h2v1h-2zM1331 536h2v1h-2zM1337 536h3v1h-3zM1350 536h1v1h-1zM1357 536h1v1h-1zM1366 536h1v1h-1zM106 538h2v1h-2zM275 538h1v1h-1zM510 538h1v1h-1z" fill="#ff0000"/>
<path class="c" d="M103 532v2h1v-2zM104 532v2h1v-2zM105 532v2h1v-2zM107 531v4h1v-4zM108 527v4h1v-4zM109 527v3h1v-3zM110 530v4h1v-4zM112 532v3h1v-3zM113 532v2h1v-2zM114 532v2h1v-2zM116 532v2h1v-2zM117 525v10h1v-10zM118 516v9h1v-9zM119 520v9h1v-9zM120 529v5h1v-5zM121 529v6h1v-6zM122 524v5h1v-5zM123 529v5h1v-5zM126 532v3h1v-3zM127 532v2h1v-2zM128 524v10h1v-10zM129 515v9h1v-9zM130 521v6h1v-6zM131 524v5h1v-5zM132 529v5h1v-5zM133 528v5h1v-5zM134 523v8h1v-8zM135 531v3h1v-3zM136 532v2h1v-2zM140 527v7h1v-7zM141 521v12h1v-12zM142 513v11h1v-11zM143 524v10h1v-10zM208 533v2h1v-2zM209 531v3h1v-3zM210 533v2h1v-2zM211 531v2h1v-2zM213 527v8h1v-8zM214 521v7h1v-7zM215 528v6h1v-6zM220 516v18h1v-18zM221 500v16h1v-16zM222 504v16h1v-16zM223 520v13h1v-13zM225 531v2h1v-2zM226 531v3h1v-3zM227 528v4h1v-4zM228 528v6h1v-6zM229 527v8h1v-8zM230 520v7h1v-7zM231 522v7h1v-7zM232 529v6h1v-6zM233 531v2h1v-2zM234 527v7h1v-7zM235 520v14h1v-14zM242 530v4h1v-4zM243 526v4h1v-4zM244 530v3h1v-3zM246 528v6h1v-6zM247 522v7h1v-7zM248 529v6h1v-6zM249 525v7h1v-7zM250 527v2h1v-2zM251 529v3h1v-3zM252 527v7h1v-7zM253 521v6h1v-6zM254 521v7h1v-7zM255 528v6h1v-6zM256 531v4h1v-4zM259 533v2h1v-2zM262 526v9h1v-9zM263 518v8h1v-8zM264 526v8h1v-8zM265 530v4h1v-4zM271 532v3h1v-3zM272 533v2h1v-2zM276 533v2h1v-2zM278 532v2h1v-2zM279 530v4h1v-4zM280 528v3h1v-3zM281 528v4h1v-4zM282 532v3h1v-3zM283 533v2h1v-2zM284 530v3h1v-3zM285 527v7h1v-7zM291 530v4h1v-4zM292 528v4h1v-4zM293 532v3h1v-3zM294 528v6h1v-6zM295 523v6h1v-6zM296 529v5h1v-5zM300 532v2h1v-2zM303 532v2h1v-2zM306 529v5h1v-5zM307 524v9h1v-9zM308 527v4h1v-4zM309 526v5h1v-5zM310 530v4h1v-4zM311 528v7h1v-7zM312 520v8h1v-8zM313 519v8h1v-8zM314 527v8h1v-8zM317 529v5h1v-5zM318 524v5h1v-5zM319 523v3h1v-3zM320 525v3h1v-3zM321 522v6h1v-6zM322 528v5h1v-5zM324 532v2h1v-2zM325 533v2h1v-2zM328 533v2h1v-2zM329 532v3h1v-3zM331 525v10h1v-10zM332 515v10h1v-10zM333 525v10h1v-10zM336 533v2h1v-2zM340 523v12h1v-12zM341 512v11h1v-11zM342 523v10h1v-10zM343 529v6h1v-6zM344 523v6h1v-6zM345 523v10h1v-10zM346 514v9h1v-9zM347 517v10h1v-10zM348 527v7h1v-7zM350 532v2h1v-2zM358 526v7h1v-7zM359 530v4h1v-4zM362 533v2h1v-2zM365 532v2h1v-2zM367 532v2h1v-2zM368 527v8h1v-8zM369 520v7h1v-7zM370 527v7h1v-7zM372 533v2h1v-2zM374 510v24h1v-24zM375 487v24h1v-24zM376 511v23h1v-23zM377 524v6h1v-6zM378 529v6h1v-6zM379 533v2h1v-2zM380 529v6h1v-6zM381 525v5h1v-5zM382 529v6h1v-6zM383 525v10h1v-10zM384 515v10h1v-10zM385 517v9h1v-9zM386 526v8h1v-8zM387 532v2h1v-2zM393 533v2h1v-2zM394 532v2h1v-2zM395 533v2h1v-2zM397 524v10h1v-10zM398 515v9h1v-9zM399 519v9h1v-9zM400 528v6h1v-6zM401 517v17h1v-17zM402 525v8h1v-8zM411 529v5h1v-5zM412 525v5h1v-5zM413 527v4h1v-4zM414 531v3h1v-3zM417 528v5h1v-5zM418 524v6h1v-6zM419 529v6h1v-6zM423 533v2h1v-2zM424 528v6h1v-6zM425 523v5h1v-5zM426 521v4h1v-4zM427 518v8h1v-8zM428 516v17h1v-17zM429 499v17h1v-17zM430 505v29h1v-29zM432 533v2h1v-2zM434 532v2h1v-2zM435 533v2h1v-2zM437 532v2h1v-2zM443 525v10h1v-10zM444 513v12h1v-12zM445 512v12h1v-12zM446 508v27h1v-27zM447 482v26h1v-26zM448 508v26h1v-26zM452 533v2h1v-2zM459 522v11h1v-11zM460 528v5h1v-5zM462 532v2h1v-2zM463 528v7h1v-7zM464 522v6h1v-6zM465 524v6h1v-6zM466 529v6h1v-6zM468 532v2h1v-2zM473 532v3h1v-3zM476 525v10h1v-10zM477 515v10h1v-10zM478 519v4h1v-4zM479 515v4h1v-4zM480 518v9h1v-9zM481 527v8h1v-8zM484 533v2h1v-2zM487 526v8h1v-8zM488 503v23h1v-23zM489 505v15h1v-15zM490 520v13h1v-13zM491 530v4h1v-4zM492 527v3h1v-3zM493 526v3h1v-3zM494 524v5h1v-5zM495 528v7h1v-7zM496 527v7h1v-7zM497 521v8h1v-8zM498 528v6h1v-6zM499 528v7h1v-7zM500 521v8h1v-8zM501 522v3h1v-3zM502 522v7h1v-7zM503 528v6h1v-6zM504 526v9h1v-9zM505 518v8h1v-8zM506 518v8h1v-8zM507 526v8h1v-8zM508 525v5h1v-5zM509 530v5h1v-5zM516 528v6h1v-6zM517 521v8h1v-8zM518 528v7h1v-7zM523 530v5h1v-5zM524 525v9h1v-9zM525 533v2h1v-2zM526 530v3h1v-3zM527 527v3h1v-3zM528 528v3h1v-3zM529 531v2h1v-2zM530 528v5h1v-5zM531 523v12h1v-12zM533 532v2h1v-2zM534 528v7h1v-7zM535 523v6h1v-6zM536 528v6h1v-6zM537 526v8h1v-8zM538 518v16h1v-16zM539 527v7h1v-7zM540 517v10h1v-10zM541 514v3h1v-3zM542 513v11h1v-11zM543 524v10h1v-10zM546 533v2h1v-2zM549 526v7h1v-7zM550 519v7h1v-7zM551 523v4h1v-4zM552 526v4h1v-4zM553 530v5h1v-5zM557 532v2h1v-2zM558 533v2h1v-2zM561 520v14h1v-14zM562 507v13h1v-13zM563 506v11h1v-11zM564 517v12h1v-12zM565 525v5h1v-5zM566 521v8h1v-8zM567 528v7h1v-7zM569 532v2h1v-2zM574 533v2h1v-2zM578 530v4h1v-4zM579 520v10h1v-10zM580 513v11h1v-11zM581 524v10h1v-10zM582 533v2h1v-2zM584 532v2h1v-2zM586 527v7h1v-7zM587 521v7h1v-7zM588 523v5h1v-5zM589 527v7h1v-7zM590 533v2h1v-2zM591 532v2h1v-2zM595 526v8h1v-8zM596 517v9h1v-9zM597 526v9h1v-9zM598 526v7h1v-7zM599 519v9h1v-9zM600 527v8h1v-8zM603 532v2h1v-2zM605 527v7h1v-7zM606 523v5h1v-5zM607 522v6h1v-6zM608 527v7h1v-7zM614 530v5h1v-5zM615 525v5h1v-5zM616 529v4h1v-4zM617 531v3h1v-3zM618 527v7h1v-7zM620 529v4h1v-4zM621 525v5h1v-5zM622 530v4h1v-4zM624 531v4h1v-4zM625 527v8h1v-8zM626 527v4h1v-4zM627 531v3h1v-3zM628 521v13h1v-13zM629 509v12h1v-12zM630 511v12h1v-12zM631 523v12h1v-12zM632 533v2h1v-2zM637 532v2h1v-2zM640 527v7h1v-7zM641 530v4h1v-4zM642 519v11h1v-11zM643 511v12h1v-12zM644 523v11h1v-11zM647 521v14h1v-14zM648 527v7h1v-7zM650 530v5h1v-5zM651 525v5h1v-5zM652 517v12h1v-12zM653 506v11h1v-11zM654 505v30h1v-30zM655 529v4h1v-4zM656 525v5h1v-5zM657 530v5h1v-5zM661 523v12h1v-12zM662 525v5h1v-5zM663 530v4h1v-4zM668 522v13h1v-13zM669 523v6h1v-6zM670 529v5h1v-5zM675 527v8h1v-8zM676 521v13h1v-13zM681 524v10h1v-10zM682 515v10h1v-10zM683 525v9h1v-9zM686 530v5h1v-5zM687 525v5h1v-5zM688 530v5h1v-5zM690 530v5h1v-5zM691 526v4h1v-4zM693 528v2h1v-2zM694 530v2h1v-2zM695 495v39h1v-39zM696 457v39h1v-39zM697 496v39h1v-39zM699 530v3h1v-3zM700 528v4h1v-4zM701 532v3h1v-3zM705 526v8h1v-8zM706 520v7h1v-7zM707 523v7h1v-7zM708 530v5h1v-5zM709 530v4h1v-4zM710 526v4h1v-4zM711 530v3h1v-3zM712 499v35h1v-35zM713 507v10h1v-10zM714 517v10h1v-10zM715 526v8h1v-8zM716 532v2h1v-2zM717 525v10h1v-10zM718 515v10h1v-10zM719 525v10h1v-10zM723 530v5h1v-5zM724 525v5h1v-5zM725 530v5h1v-5zM726 532v2h1v-2zM728 533v2h1v-2zM733 525v9h1v-9zM734 516v17h1v-17zM738 533v2h1v-2zM741 532v2h1v-2zM742 530v3h1v-3zM743 526v5h1v-5zM744 531v4h1v-4zM746 526v9h1v-9zM747 519v8h1v-8zM748 526v9h1v-9zM749 523v6h1v-6zM750 522v6h1v-6zM751 528v5h1v-5zM757 533v2h1v-2zM759 532v2h1v-2zM761 533v2h1v-2zM762 530v4h1v-4zM763 526v4h1v-4zM764 526v4h1v-4zM765 530v3h1v-3zM769 530v4h1v-4zM770 526v9h1v-9zM771 518v9h1v-9zM772 519v8h1v-8zM773 526v8h1v-8zM774 533v2h1v-2zM775 532v2h1v-2zM780 515v19h1v-19zM781 497v18h1v-18zM782 500v19h1v-19zM783 519v16h1v-16zM784 533v2h1v-2zM785 525v9h1v-9zM786 517v8h1v-8zM787 520v8h1v-8zM788 528v6h1v-6zM790 524v11h1v-11zM791 511v13h1v-13zM792 523v11h1v-11zM798 533v2h1v-2zM799 532v3h1v-3zM800 529v6h1v-6zM801 524v5h1v-5zM802 528v6h1v-6zM803 522v6h1v-6zM804 522v6h1v-6zM805 527v6h1v-6zM806 521v7h1v-7zM807 525v8h1v-8zM808 519v8h1v-8zM809 527v8h1v-8zM811 513v20h1v-20zM812 494v19h1v-19zM813 512v21h1v-21zM814 533v2h1v-2zM816 533v2h1v-2zM819 533v2h1v-2zM820 514v19h1v-19zM821 524v10h1v-10zM824 530v5h1v-5zM825 525v5h1v-5zM826 529v4h1v-4zM827 525v6h1v-6zM828 527v6h1v-6zM829 522v6h1v-6zM830 528v6h1v-6zM831 527v7h1v-7zM832 520v7h1v-7zM834 522v7h1v-7zM835 529v6h1v-6zM837 517v18h1v-18zM838 499v18h1v-18zM839 507v11h1v-11zM840 518v10h1v-10zM841 528v6h1v-6zM842 532v3h1v-3zM849 522v11h1v-11zM850 522v7h1v-7zM851 529v6h1v-6zM853 530v3h1v-3zM854 527v3h1v-3zM855 525v6h1v-6zM856 531v4h1v-4zM857 530v3h1v-3zM858 527v4h1v-4zM859 531v3h1v-3zM860 533v2h1v-2zM864 523v11h1v-11zM865 512v11h1v-11zM866 523v11h1v-11zM867 533v2h1v-2zM871 532v3h1v-3zM872 532v2h1v-2zM875 527v6h1v-6zM876 522v5h1v-5zM877 525v6h1v-6zM878 531v4h1v-4zM885 533v2h1v-2zM889 530v5h1v-5zM890 525v5h1v-5zM891 527v4h1v-4zM892 531v3h1v-3zM893 533v2h1v-2zM894 529v6h1v-6zM895 524v5h1v-5zM896 526v4h1v-4zM897 522v6h1v-6zM898 528v5h1v-5zM900 518v17h1v-17zM901 527v8h1v-8zM902 530v4h1v-4zM903 527v4h1v-4zM904 531v4h1v-4zM905 530v5h1v-5zM906 524v6h1v-6zM907 524v9h1v-9zM910 530v5h1v-5zM911 524v6h1v-6zM912 527v4h1v-4zM913 531v4h1v-4zM914 522v12h1v-12zM915 523v6h1v-6zM916 529v6h1v-6zM918 528v6h1v-6zM919 523v5h1v-5zM920 526v5h1v-5zM921 531v3h1v-3zM925 526v9h1v-9zM926 517v9h1v-9zM927 520v8h1v-8zM928 528v6h1v-6zM929 523v12h1v-12zM930 512v11h1v-11zM931 511v11h1v-11zM932 522v11h1v-11zM934 528v7h1v-7zM935 521v7h1v-7zM936 523v11h1v-11zM937 533v2h1v-2zM943 533v2h1v-2zM944 524v9h1v-9zM945 515v10h1v-10zM946 514v11h1v-11zM947 524v10h1v-10zM949 533v2h1v-2zM950 532v3h1v-3zM952 527v8h1v-8zM953 520v7h1v-7zM954 523v3h1v-3zM955 524v6h1v-6zM956 530v5h1v-5zM957 527v4h1v-4zM958 529v5h1v-5zM962 523v11h1v-11zM963 513v12h1v-12zM964 524v10h1v-10zM965 514v21h1v-21zM966 524v10h1v-10zM967 521v6h1v-6zM968 524v6h1v-6zM969 530v4h1v-4zM972 533v2h1v-2zM979 501v34h1v-34zM980 485v24h1v-24zM981 509v24h1v-24zM985 524v10h1v-10zM986 514v11h1v-11zM987 511v23h1v-23zM989 529v4h1v-4zM990 526v4h1v-4zM991 530v4h1v-4zM993 531v4h1v-4zM994 527v7h1v-7zM995 520v7h1v-7zM996 527v7h1v-7zM998 527v7h1v-7zM999 513v14h1v-14zM1000 505v14h1v-14zM1001 519v15h1v-15zM1008 531v3h1v-3zM1009 528v3h1v-3zM1010 530v3h1v-3zM1011 531v4h1v-4zM1012 525v6h1v-6zM1013 522v7h1v-7zM1014 529v6h1v-6zM1017 528v6h1v-6zM1018 523v5h1v-5zM1019 525v6h1v-6zM1020 531v4h1v-4zM1021 530v4h1v-4zM1022 526v5h1v-5zM1023 531v4h1v-4zM1025 531v3h1v-3zM1026 528v3h1v-3zM1027 528v4h1v-4zM1028 529v6h1v-6zM1029 523v6h1v-6zM1030 523v6h1v-6zM1031 529v6h1v-6zM1034 527v7h1v-7zM1035 521v7h1v-7zM1036 528v6h1v-6zM1037 519v14h1v-14zM1038 505v15h1v-15zM1039 520v14h1v-14zM1041 523v12h1v-12zM1042 512v12h1v-12zM1043 523v10h1v-10zM1044 533v2h1v-2zM1046 533v2h1v-2zM1050 530v4h1v-4zM1051 522v8h1v-8zM1052 518v9h1v-9zM1053 527v8h1v-8zM1056 527v8h1v-8zM1057 519v8h1v-8zM1058 527v7h1v-7zM1059 527v8h1v-8zM1060 520v8h1v-8zM1061 528v7h1v-7zM1062 532v2h1v-2zM1063 533v2h1v-2zM1066 533v2h1v-2zM1070 533v2h1v-2zM1071 532v2h1v-2zM1072 525v10h1v-10zM1073 516v17h1v-17zM1075 533v2h1v-2zM1079 533v2h1v-2zM1080 532v2h1v-2zM1082 533v2h1v-2zM1084 512v22h1v-22zM1085 490v22h1v-22zM1086 502v22h1v-22zM1087 523v11h1v-11zM1088 532v2h1v-2zM1089 532v2h1v-2zM1090 529v6h1v-6zM1091 523v6h1v-6zM1092 529v5h1v-5zM1095 532v3h1v-3zM1098 530v3h1v-3zM1099 527v3h1v-3zM1100 529v3h1v-3zM1101 532v2h1v-2zM1104 533v2h1v-2zM1107 530v4h1v-4zM1108 526v4h1v-4zM1109 526v7h1v-7zM1111 522v13h1v-13zM1112 512v11h1v-11zM1113 511v12h1v-12zM1114 522v12h1v-12zM1117 532v3h1v-3zM1118 533v2h1v-2zM1119 530v3h1v-3zM1120 527v3h1v-3zM1121 524v6h1v-6zM1122 518v6h1v-6zM1123 520v8h1v-8zM1124 528v6h1v-6zM1125 526v8h1v-8zM1126 518v8h1v-8zM1127 518v8h1v-8zM1128 526v8h1v-8zM1129 525v4h1v-4zM1130 529v5h1v-5zM1131 533v2h1v-2zM1137 530v4h1v-4zM1138 527v7h1v-7zM1140 529v6h1v-6zM1141 522v7h1v-7zM1142 529v5h1v-5zM1143 530v4h1v-4zM1144 526v4h1v-4zM1145 530v4h1v-4zM1152 533v2h1v-2zM1153 524v9h1v-9zM1154 530v5h1v-5zM1156 522v12h1v-12zM1157 513v10h1v-10zM1158 517v7h1v-7zM1159 524v4h1v-4zM1160 520v8h1v-8zM1161 528v4h1v-4zM1162 532v3h1v-3zM1163 529v5h1v-5zM1164 525v5h1v-5zM1165 527v7h1v-7zM1166 520v7h1v-7zM1167 521v14h1v-14zM1169 528v7h1v-7zM1170 522v6h1v-6zM1171 528v6h1v-6zM1178 528v7h1v-7zM1179 522v6h1v-6zM1180 524v6h1v-6zM1181 530v5h1v-5zM1183 527v6h1v-6zM1184 522v5h1v-5zM1185 524v5h1v-5zM1186 529v4h1v-4zM1187 529v5h1v-5zM1188 524v5h1v-5zM1189 529v4h1v-4zM1190 514v20h1v-20zM1191 494v20h1v-20zM1192 514v20h1v-20zM1193 522v12h1v-12zM1194 513v10h1v-10zM1195 512v5h1v-5zM1196 517v11h1v-11zM1197 528v6h1v-6zM1198 522v6h1v-6zM1199 524v5h1v-5zM1200 527v7h1v-7zM1201 520v7h1v-7zM1202 522v7h1v-7zM1203 529v6h1v-6zM1205 526v9h1v-9zM1206 518v8h1v-8zM1207 526v8h1v-8zM1208 514v21h1v-21zM1209 494v20h1v-20zM1210 514v20h1v-20zM1211 533v2h1v-2zM1212 530v5h1v-5zM1213 526v4h1v-4zM1214 527v4h1v-4zM1215 529v6h1v-6zM1216 524v5h1v-5zM1217 529v5h1v-5zM1218 532v3h1v-3zM1219 529v4h1v-4zM1220 525v4h1v-4zM1221 527v3h1v-3zM1222 530v3h1v-3zM1225 527v8h1v-8zM1226 519v8h1v-8zM1227 526v8h1v-8zM1228 531v4h1v-4zM1229 528v3h1v-3zM1230 531v2h1v-2zM1232 528v6h1v-6zM1233 527v4h1v-4zM1234 531v3h1v-3zM1237 529v5h1v-5zM1238 524v5h1v-5zM1239 525v3h1v-3zM1240 521v13h1v-13zM1245 528v6h1v-6zM1246 521v7h1v-7zM1247 528v6h1v-6zM1248 529v5h1v-5zM1249 524v5h1v-5zM1250 524v4h1v-4zM1251 520v4h1v-4zM1252 523v7h1v-7zM1253 528v6h1v-6zM1254 523v5h1v-5zM1255 520v3h1v-3zM1256 517v3h1v-3zM1257 515v4h1v-4zM1258 519v9h1v-9zM1259 528v7h1v-7zM1260 530v3h1v-3zM1261 528v5h1v-5zM1262 533v2h1v-2zM1265 531v4h1v-4zM1266 527v4h1v-4zM1267 531v4h1v-4zM1268 526v9h1v-9zM1269 520v6h1v-6zM1270 521v7h1v-7zM1271 528v5h1v-5zM1272 525v4h1v-4zM1273 528v4h1v-4zM1274 532v2h1v-2zM1275 532v2h1v-2zM1276 533v2h1v-2zM1277 524v10h1v-10zM1278 514v11h1v-11zM1279 525v10h1v-10zM1283 533v2h1v-2zM1288 532v2h1v-2zM1290 533v2h1v-2zM1293 532v2h1v-2zM1295 525v9h1v-9zM1296 516v9h1v-9zM1297 510v12h1v-12zM1298 502v8h1v-8zM1299 507v16h1v-16zM1300 523v12h1v-12zM1301 530v4h1v-4zM1302 527v3h1v-3zM1303 526v4h1v-4zM1304 530v3h1v-3zM1305 518v16h1v-16zM1306 521v8h1v-8zM1307 529v6h1v-6zM1308 523v6h1v-6zM1309 524v5h1v-5zM1310 529v5h1v-5zM1312 532v2h1v-2zM1317 533v2h1v-2zM1319 528v5h1v-5zM1320 523v7h1v-7zM1321 516v10h1v-10zM1322 526v9h1v-9zM1325 527v7h1v-7zM1326 520v15h1v-15zM1327 520v7h1v-7zM1328 527v7h1v-7zM1332 533v2h1v-2zM1333 532v2h1v-2zM1335 533v2h1v-2zM1337 531v3h1v-3zM1338 528v3h1v-3zM1339 528v4h1v-4zM1340 532v3h1v-3zM1344 523v11h1v-11zM1345 511v12h1v-12zM1346 510v12h1v-12zM1347 522v11h1v-11zM1348 510v13h1v-13zM1349 523v12h1v-12zM1354 529v6h1v-6zM1355 524v10h1v-10zM1356 516v9h1v-9zM1357 516v10h1v-10zM1358 526v9h1v-9zM1359 524v9h1v-9zM1360 515v10h1v-10zM1361 525v9h1v-9zM1362 533v2h1v-2zM1365 527v7h1v-7zM1366 520v7h1v-7zM1314 520h7v1h-7zM1322 520h4v1h-4zM1328 520h17v1h-17zM1347 520h1v1h-1zM1349 520h7v1h-7zM1358 520h2v1h-2zM1361 520h5v1h-5zM1209 521h1v1h-1zM1211 521h15v1h-15zM1227 521h13v1h-13zM1241 521h5v1h-5zM1247 521h4v1h-4zM1252 521h3v1h-3zM1256 521h2v1h-2zM1259 521h10v1h-10zM1271 521h7v1h-7zM1279 521h17v1h-17zM1298 521h1v1h-1zM1300 521h5v1h-5zM1307 521h7v1h-7zM833 522h1v1h-1zM1103 522h8v1h-8zM1115 522h7v1h-7zM1124 522h2v1h-2zM1128 522h13v1h-13zM1142 522h14v1h-14zM1159 522h1v1h-1zM1161 522h5v1h-5zM1168 522h2v1h-2zM1171 522h8v1h-8zM1180 522h4v1h-4zM1185 522h5v1h-5zM1191 522h1v1h-1zM1195 522h1v1h-1zM1197 522h1v1h-1zM1199 522h2v1h-2zM1203 522h3v1h-3zM1207 522h1v1h-1zM998 523h1v1h-1zM1000 523h1v1h-1zM1002 523h11v1h-11zM1014 523h4v1h-4zM1019 523h10v1h-10zM1031 523h4v1h-4zM1036 523h1v1h-1zM1038 523h1v1h-1zM1040 523h1v1h-1zM1044 523h7v1h-7zM1053 523h4v1h-4zM1058 523h2v1h-2zM1061 523h12v1h-12zM1074 523h10v1h-10zM1085 523h1v1h-1zM1088 523h3v1h-3zM1092 523h11v1h-11zM892 524h3v1h-3zM896 524h1v1h-1zM898 524h2v1h-2zM901 524h5v1h-5zM908 524h3v1h-3zM912 524h2v1h-2zM916 524h3v1h-3zM920 524h6v1h-6zM928 524h1v1h-1zM930 524h2v1h-2zM933 524h2v1h-2zM937 524h7v1h-7zM948 524h5v1h-5zM956 524h6v1h-6zM969 524h10v1h-10zM980 524h1v1h-1zM982 524h3v1h-3zM988 524h7v1h-7zM996 524h2v1h-2zM788 525h2v1h-2zM791 525h1v1h-1zM793 525h8v1h-8zM802 525h1v1h-1zM805 525h1v1h-1zM809 525h2v1h-2zM812 525h1v1h-1zM814 525h6v1h-6zM822 525h3v1h-3zM826 525h1v1h-1zM828 525h1v1h-1zM830 525h2v1h-2zM833 525h1v1h-1zM835 525h2v1h-2zM838 525h2v1h-2zM841 525h8v1h-8zM851 525h4v1h-4zM856 525h8v1h-8zM865 525h1v1h-1zM867 525h9v1h-9zM878 525h12v1h-12zM891 525h1v1h-1zM682 526h1v1h-1zM684 526h3v1h-3zM688 526h3v1h-3zM692 526h3v1h-3zM696 526h1v1h-1zM698 526h7v1h-7zM708 526h2v1h-2zM711 526h1v1h-1zM713 526h1v1h-1zM716 526h1v1h-1zM718 526h1v1h-1zM720 526h4v1h-4zM725 526h8v1h-8zM735 526h8v1h-8zM744 526h2v1h-2zM751 526h12v1h-12zM765 526h5v1h-5zM774 526h6v1h-6zM781 526h2v1h-2zM784 526h1v1h-1zM786 526h1v1h-1zM576 527h3v1h-3zM580 527h1v1h-1zM582 527h4v1h-4zM590 527h5v1h-5zM596 527h1v1h-1zM601 527h4v1h-4zM609 527h6v1h-6zM616 527h2v1h-2zM619 527h2v1h-2zM622 527h3v1h-3zM627 527h1v1h-1zM629 527h2v1h-2zM632 527h8v1h-8zM641 527h1v1h-1zM643 527h1v1h-1zM645 527h2v1h-2zM649 527h2v1h-2zM653 527h1v1h-1zM655 527h1v1h-1zM657 527h4v1h-4zM663 527h5v1h-5zM670 527h5v1h-5zM677 527h4v1h-4zM470 528h6v1h-6zM477 528h4v1h-4zM482 528h5v1h-5zM488 528h2v1h-2zM491 528h1v1h-1zM501 528h1v1h-1zM505 528h2v1h-2zM509 528h7v1h-7zM519 528h5v1h-5zM525 528h2v1h-2zM529 528h1v1h-1zM532 528h2v1h-2zM540 528h3v1h-3zM544 528h5v1h-5zM550 528h2v1h-2zM553 528h8v1h-8zM562 528h2v1h-2zM568 528h8v1h-8zM692 528h1v1h-1zM365 529h3v1h-3zM369 529h1v1h-1zM371 529h3v1h-3zM375 529h1v1h-1zM379 529h1v1h-1zM384 529h2v1h-2zM387 529h10v1h-10zM398 529h2v1h-2zM403 529h8v1h-8zM414 529h3v1h-3zM420 529h4v1h-4zM425 529h3v1h-3zM429 529h1v1h-1zM431 529h12v1h-12zM444 529h2v1h-2zM447 529h1v1h-1zM449 529h10v1h-10zM461 529h2v1h-2zM464 529h1v1h-1zM467 529h3v1h-3zM260 530h2v1h-2zM263 530h1v1h-1zM266 530h13v1h-13zM282 530h2v1h-2zM286 530h5v1h-5zM293 530h1v1h-1zM295 530h1v1h-1zM297 530h9v1h-9zM312 530h2v1h-2zM315 530h2v1h-2zM318 530h4v1h-4zM323 530h8v1h-8zM332 530h1v1h-1zM334 530h6v1h-6zM341 530h1v1h-1zM344 530h1v1h-1zM346 530h2v1h-2zM349 530h9v1h-9zM360 530h5v1h-5zM154 531h55v1h-55zM210 531h1v1h-1zM212 531h1v1h-1zM214 531h1v1h-1zM216 531h4v1h-4zM221 531h2v1h-2zM224 531h1v1h-1zM230 531h2v1h-2zM236 531h6v1h-6zM243 531h1v1h-1zM245 531h1v1h-1zM247 531h1v1h-1zM250 531h1v1h-1zM253 531h2v1h-2zM257 531h3v1h-3zM101 532h2v1h-2zM106 532h1v1h-1zM108 532h2v1h-2zM111 532h1v1h-1zM115 532h1v1h-1zM118 532h2v1h-2zM122 532h1v1h-1zM124 532h2v1h-2zM129 532h3v1h-3zM134 532h1v1h-1zM137 532h3v1h-3zM142 532h1v1h-1zM144 532h10v1h-10zM260 532h1v1h-1zM273 532h1v1h-1zM277 532h1v1h-1zM323 532h1v1h-1zM326 532h1v1h-1zM334 532h1v1h-1zM356 532h1v1h-1zM363 532h1v1h-1zM366 532h1v1h-1zM388 532h1v1h-1zM396 532h1v1h-1zM409 532h2v1h-2zM421 532h2v1h-2zM433 532h1v1h-1zM436 532h1v1h-1zM456 532h1v1h-1zM467 532h1v1h-1zM485 532h1v1h-1zM515 532h1v1h-1zM519 532h1v1h-1zM521 532h1v1h-1zM532 532h1v1h-1zM559 532h1v1h-1zM568 532h1v1h-1zM577 532h1v1h-1zM679 532h1v1h-1zM698 532h1v1h-1zM703 532h1v1h-1zM720 532h1v1h-1zM729 532h1v1h-1zM732 532h1v1h-1zM739 532h2v1h-2zM758 532h1v1h-1zM766 532h1v1h-1zM793 532h1v1h-1zM817 532h1v1h-1zM861 532h3v1h-3zM868 532h3v1h-3zM879 532h1v1h-1zM881 532h1v1h-1zM908 532h1v1h-1zM938 532h2v1h-2zM959 532h1v1h-1zM961 532h1v1h-1zM976 532h1v1h-1zM1003 532h1v1h-1zM1005 532h1v1h-1zM1007 532h1v1h-1zM1047 532h3v1h-3zM1064 532h1v1h-1zM1076 532h2v1h-2zM1083 532h1v1h-1zM1105 532h1v1h-1zM1115 532h2v1h-2zM1132 532h2v1h-2zM1182 532h1v1h-1zM1280 532h1v1h-1zM1291 532h2v1h-2zM1311 532h1v1h-1zM1313 532h1v1h-1zM1318 532h1v1h-1zM1336 532h1v1h-1zM212 533h1v1h-1zM217 533h3v1h-3zM224 533h1v1h-1zM237 533h1v1h-1zM239 533h2v1h-2zM245 533h1v1h-1zM257 533h2v1h-2zM261 533h1v1h-1zM266 533h1v1h-1zM268 533h3v1h-3zM274 533h2v1h-2zM286 533h4v1h-4zM297 533h1v1h-1zM302 533h1v1h-1zM305 533h1v1h-1zM315 533h1v1h-1zM327 533h1v1h-1zM330 533h1v1h-1zM335 533h1v1h-1zM337 533h3v1h-3zM349 533h1v1h-1zM351 533h5v1h-5zM357 533h1v1h-1zM361 533h1v1h-1zM364 533h1v1h-1zM373 533h1v1h-1zM389 533h1v1h-1zM391 533h2v1h-2zM403 533h2v1h-2zM406 533h3v1h-3zM416 533h1v1h-1zM420 533h1v1h-1zM438 533h3v1h-3zM442 533h1v1h-1zM449 533h1v1h-1zM453 533h1v1h-1zM455 533h1v1h-1zM457 533h2v1h-2zM461 533h1v1h-1zM470 533h2v1h-2zM474 533h2v1h-2zM482 533h2v1h-2zM486 533h1v1h-1zM510 533h2v1h-2zM514 533h1v1h-1zM520 533h1v1h-1zM522 533h1v1h-1zM545 533h1v1h-1zM547 533h2v1h-2zM555 533h2v1h-2zM560 533h1v1h-1zM571 533h1v1h-1zM575 533h2v1h-2zM583 533h1v1h-1zM593 533h1v1h-1zM601 533h2v1h-2zM604 533h1v1h-1zM609 533h3v1h-3zM619 533h1v1h-1zM623 533h1v1h-1zM635 533h2v1h-2zM645 533h2v1h-2zM649 533h1v1h-1zM658 533h3v1h-3zM666 533h1v1h-1zM672 533h3v1h-3zM677 533h2v1h-2zM680 533h1v1h-1zM685 533h1v1h-1zM702 533h1v1h-1zM704 533h1v1h-1zM721 533h2v1h-2zM730 533h2v1h-2zM735 533h1v1h-1zM745 533h1v1h-1zM752 533h5v1h-5zM767 533h1v1h-1zM778 533h1v1h-1zM794 533h3v1h-3zM810 533h1v1h-1zM815 533h1v1h-1zM818 533h1v1h-1zM822 533h1v1h-1zM847 533h2v1h-2zM852 533h1v1h-1zM874 533h1v1h-1zM880 533h1v1h-1zM882 533h3v1h-3zM899 533h1v1h-1zM909 533h1v1h-1zM922 533h3v1h-3zM933 533h1v1h-1zM940 533h1v1h-1zM960 533h1v1h-1zM971 533h1v1h-1zM973 533h1v1h-1zM975 533h1v1h-1zM977 533h1v1h-1zM982 533h1v1h-1zM984 533h1v1h-1zM988 533h1v1h-1zM992 533h1v1h-1zM1002 533h1v1h-1zM1004 533h1v1h-1zM1006 533h1v1h-1zM1015 533h2v1h-2zM1024 533h1v1h-1zM1032 533h1v1h-1zM1040 533h1v1h-1zM1054 533h2v1h-2zM1065 533h1v1h-1zM1074 533h1v1h-1zM1078 533h1v1h-1zM1093 533h2v1h-2zM1096 533h2v1h-2zM1103 533h1v1h-1zM1106 533h1v1h-1zM1110 533h1v1h-1zM1134 533h2v1h-2zM1146 533h1v1h-1zM1148 533h4v1h-4zM1172 533h1v1h-1zM1175 533h3v1h-3zM1204 533h1v1h-1zM1223 533h2v1h-2zM1231 533h1v1h-1zM1236 533h1v1h-1zM1242 533h3v1h-3zM1263 533h1v1h-1zM1281 533h2v1h-2zM1284 533h1v1h-1zM1287 533h1v1h-1zM1314 533h2v1h-2zM1329 533h3v1h-3zM1334 533h1v1h-1zM1341 533h1v1h-1zM1343 533h1v1h-1zM1350 533h3v1h-3zM106 534h1v1h-1zM111 534h1v1h-1zM124 534h2v1h-2zM137 534h3v1h-3zM144 534h3v1h-3zM216 534h1v1h-1zM236 534h1v1h-1zM238 534h1v1h-1zM241 534h1v1h-1zM267 534h1v1h-1zM290 534h1v1h-1zM298 534h2v1h-2zM301 534h1v1h-1zM304 534h1v1h-1zM316 534h1v1h-1zM360 534h1v1h-1zM371 534h1v1h-1zM390 534h1v1h-1zM405 534h1v1h-1zM415 534h1v1h-1zM431 534h1v1h-1zM441 534h1v1h-1zM450 534h2v1h-2zM454 534h1v1h-1zM469 534h1v1h-1zM472 534h1v1h-1zM512 534h2v1h-2zM544 534h1v1h-1zM554 534h1v1h-1zM570 534h1v1h-1zM572 534h2v1h-2zM585 534h1v1h-1zM592 534h1v1h-1zM594 534h1v1h-1zM612 534h2v1h-2zM633 534h2v1h-2zM638 534h2v1h-2zM664 534h2v1h-2zM667 534h1v1h-1zM671 534h1v1h-1zM684 534h1v1h-1zM689 534h1v1h-1zM727 534h1v1h-1zM736 534h2v1h-2zM760 534h1v1h-1zM768 534h1v1h-1zM776 534h2v1h-2zM779 534h1v1h-1zM789 534h1v1h-1zM797 534h1v1h-1zM823 534h1v1h-1zM836 534h1v1h-1zM843 534h4v1h-4zM873 534h1v1h-1zM886 534h3v1h-3zM917 534h1v1h-1zM941 534h2v1h-2zM948 534h1v1h-1zM951 534h1v1h-1zM970 534h1v1h-1zM974 534h1v1h-1zM978 534h1v1h-1zM983 534h1v1h-1zM997 534h1v1h-1zM1033 534h1v1h-1zM1045 534h1v1h-1zM1067 534h3v1h-3zM1081 534h1v1h-1zM1102 534h1v1h-1zM1136 534h1v1h-1zM1139 534h1v1h-1zM1147 534h1v1h-1zM1155 534h1v1h-1zM1168 534h1v1h-1zM1173 534h2v1h-2zM1235 534h1v1h-1zM1241 534h1v1h-1zM1264 534h1v1h-1zM1285 534h2v1h-2zM1289 534h1v1h-1zM1294 534h1v1h-1zM1316 534h1v1h-1zM1323 534h2v1h-2zM1342 534h1v1h-1zM1353 534h1v1h-1zM1363 534h2v1h-2z" fill="#00c000"/>
<path class="c" d="M101 532v2h1v-2zM102 530v2h1v-2zM103 527v3h1v-3zM104 525v2h1v-2zM105 522v3h1v-3zM106 520v2h1v-2zM107 517v3h1v-3zM108 516v10h1v-10zM109 526v10h1v-10zM111 533v2h1v-2zM112 533v3h1v-3zM113 533v2h1v-2zM115 530v6h1v-6zM116 524v6h1v-6zM117 526v5h1v-5zM118 529v6h1v-6zM119 524v5h1v-5zM120 523v3h1v-3zM122 523v2h1v-2zM123 525v5h1v-5zM124 530v5h1v-5zM125 533v2h1v-2zM126 524v12h1v-12zM127 526v6h1v-6zM128 530v6h1v-6zM129 525v5h1v-5zM130 530v5h1v-5zM131 528v7h1v-7zM132 522v6h1v-6zM133 522v7h1v-7zM134 529v6h1v-6zM137 530v6h1v-6zM138 524v6h1v-6zM139 527v5h1v-5zM140 532v3h1v-3zM142 529v6h1v-6zM143 524v6h1v-6zM144 530v5h1v-5zM145 524v6h1v-6zM146 522v2h1v-2zM211 531v4h1v-4zM212 525v6h1v-6zM213 523v13h1v-13zM214 529v6h1v-6zM215 524v6h1v-6zM216 530v5h1v-5zM219 531v5h1v-5zM220 527v4h1v-4zM221 525v6h1v-6zM222 531v5h1v-5zM226 532v4h1v-4zM227 528v5h1v-5zM228 532v4h1v-4zM229 528v8h1v-8zM230 521v7h1v-7zM231 519v2h1v-2zM232 517v9h1v-9zM233 526v9h1v-9zM234 529v6h1v-6zM235 523v6h1v-6zM236 525v3h1v-3zM237 528v5h1v-5zM238 529v7h1v-7zM239 522v7h1v-7zM240 522v7h1v-7zM241 529v7h1v-7zM242 523v6h1v-6zM243 524v3h1v-3zM244 527v6h1v-6zM245 532v4h1v-4zM248 525v11h1v-11zM249 514v21h1v-21zM250 525v11h1v-11zM251 514v11h1v-11zM252 516v10h1v-10zM253 526v10h1v-10zM255 531v5h1v-5zM256 527v8h1v-8zM258 531v5h1v-5zM259 527v4h1v-4zM260 527v4h1v-4zM261 531v4h1v-4zM262 530v5h1v-5zM263 525v6h1v-6zM264 528v8h1v-8zM265 521v7h1v-7zM266 521v8h1v-8zM267 529v7h1v-7zM272 531v5h1v-5zM273 526v5h1v-5zM274 528v5h1v-5zM275 527v8h1v-8zM276 519v8h1v-8zM277 522v8h1v-8zM278 530v6h1v-6zM281 528v7h1v-7zM282 521v7h1v-7zM283 521v7h1v-7zM284 528v7h1v-7zM286 529v6h1v-6zM287 524v5h1v-5zM288 524v4h1v-4zM289 521v8h1v-8zM290 527v9h1v-9zM291 518v9h1v-9zM292 527v8h1v-8zM293 524v7h1v-7zM294 531v5h1v-5zM300 524v12h1v-12zM301 522v2h1v-2zM302 522v7h1v-7zM303 529v6h1v-6zM304 530v5h1v-5zM305 525v5h1v-5zM306 525v2h1v-2zM307 527v7h1v-7zM308 534v2h1v-2zM310 529v7h1v-7zM311 523v7h1v-7zM312 530v6h1v-6zM316 529v7h1v-7zM317 523v6h1v-6zM318 524v4h1v-4zM319 521v3h1v-3zM320 523v7h1v-7zM321 530v6h1v-6zM322 529v6h1v-6zM323 523v7h1v-7zM324 530v6h1v-6zM325 525v5h1v-5zM326 530v5h1v-5zM328 530v6h1v-6zM329 525v10h1v-10zM331 525v10h1v-10zM332 515v10h1v-10zM333 519v4h1v-4zM334 520v8h1v-8zM335 527v8h1v-8zM336 520v15h1v-15zM337 506v15h1v-15zM338 521v14h1v-14zM343 534v2h1v-2zM346 531v4h1v-4zM347 527v6h1v-6zM348 532v4h1v-4zM350 505v30h1v-30zM351 514v15h1v-15zM352 529v7h1v-7zM353 529v6h1v-6zM354 522v7h1v-7zM355 521v2h1v-2zM356 518v7h1v-7zM357 511v7h1v-7zM358 514v21h1v-21zM359 525v5h1v-5zM360 524v6h1v-6zM361 530v6h1v-6zM362 526v5h1v-5zM363 531v5h1v-5zM365 534v2h1v-2zM366 528v7h1v-7zM367 521v8h1v-8zM368 529v7h1v-7zM369 530v6h1v-6zM370 525v5h1v-5zM371 524v6h1v-6zM372 530v6h1v-6zM374 530v6h1v-6zM375 524v6h1v-6zM376 530v6h1v-6zM380 531v5h1v-5zM381 527v4h1v-4zM382 527v4h1v-4zM383 531v4h1v-4zM384 530v5h1v-5zM385 525v5h1v-5zM386 526v2h1v-2zM387 528v8h1v-8zM388 531v4h1v-4zM389 527v4h1v-4zM390 525v2h1v-2zM391 524v6h1v-6zM392 530v5h1v-5zM394 525v10h1v-10zM395 515v10h1v-10zM396 525v10h1v-10zM397 523v7h1v-7zM398 530v6h1v-6zM401 523v12h1v-12zM402 529v6h1v-6zM404 529v7h1v-7zM405 522v7h1v-7zM406 528v8h1v-8zM407 521v7h1v-7zM408 524v11h1v-11zM423 534v2h1v-2zM426 528v7h1v-7zM427 521v7h1v-7zM428 528v7h1v-7zM429 524v6h1v-6zM430 530v5h1v-5zM437 531v5h1v-5zM438 526v6h1v-6zM439 525v5h1v-5zM440 529v6h1v-6zM441 523v7h1v-7zM442 530v6h1v-6zM443 526v6h1v-6zM444 526v9h1v-9zM450 530v5h1v-5zM451 525v5h1v-5zM452 527v8h1v-8zM455 530v6h1v-6zM456 525v5h1v-5zM457 527v5h1v-5zM458 531v5h1v-5zM459 529v6h1v-6zM460 524v6h1v-6zM461 530v5h1v-5zM463 522v14h1v-14zM464 508v14h1v-14zM465 507v10h1v-10zM466 517v9h1v-9zM467 524v6h1v-6zM468 530v5h1v-5zM470 528v7h1v-7zM471 521v7h1v-7zM472 523v6h1v-6zM473 529v7h1v-7zM477 529v6h1v-6zM478 523v6h1v-6zM479 525v5h1v-5zM480 530v5h1v-5zM484 529v7h1v-7zM485 522v7h1v-7zM486 529v7h1v-7zM488 528v8h1v-8zM489 521v7h1v-7zM490 522v7h1v-7zM491 529v6h1v-6zM492 529v7h1v-7zM493 522v7h1v-7zM494 529v7h1v-7zM495 526v9h1v-9zM496 531v4h1v-4zM497 529v6h1v-6zM498 523v6h1v-6zM499 523v2h1v-2zM500 522v7h1v-7zM501 529v7h1v-7zM502 534v2h1v-2zM505 530v6h1v-6zM506 524v6h1v-6zM507 530v6h1v-6zM508 530v6h1v-6zM509 525v11h1v-11zM510 526v6h1v-6zM511 525v5h1v-5zM512 530v5h1v-5zM517 534v2h1v-2zM521 530v5h1v-5zM522 525v5h1v-5zM523 525v5h1v-5zM524 521v11h1v-11zM525 529v6h1v-6zM526 524v5h1v-5zM527 526v6h1v-6zM528 531v4h1v-4zM531 527v9h1v-9zM532 531v4h1v-4zM537 529v6h1v-6zM538 523v13h1v-13zM539 528v7h1v-7zM540 521v7h1v-7zM541 523v6h1v-6zM542 524v11h1v-11zM543 513v11h1v-11zM544 512v12h1v-12zM545 524v11h1v-11zM546 534v2h1v-2zM550 528v7h1v-7zM551 521v7h1v-7zM552 524v8h1v-8zM553 531v5h1v-5zM555 513v22h1v-22zM556 491v22h1v-22zM557 513v22h1v-22zM561 531v4h1v-4zM562 528v4h1v-4zM564 526v6h1v-6zM565 531v4h1v-4zM566 529v7h1v-7zM567 522v14h1v-14zM568 521v14h1v-14zM569 508v13h1v-13zM570 510v14h1v-14zM571 524v12h1v-12zM572 531v5h1v-5zM573 526v6h1v-6zM574 528v8h1v-8zM575 521v7h1v-7zM576 524v8h1v-8zM577 531v4h1v-4zM578 530v6h1v-6zM579 524v6h1v-6zM580 526v2h1v-2zM581 528v4h1v-4zM582 531v4h1v-4zM583 530v5h1v-5zM584 526v4h1v-4zM585 526v3h1v-3zM586 523v6h1v-6zM587 529v6h1v-6zM588 528v4h1v-4zM589 523v13h1v-13zM590 524v3h1v-3zM591 527v5h1v-5zM592 527v9h1v-9zM593 519v8h1v-8zM594 522v8h1v-8zM595 530v5h1v-5zM596 525v10h1v-10zM597 515v10h1v-10zM598 517v9h1v-9zM599 526v9h1v-9zM600 526v6h1v-6zM601 529v7h1v-7zM602 523v6h1v-6zM603 529v6h1v-6zM611 515v21h1v-21zM612 517v10h1v-10zM613 527v9h1v-9zM614 524v8h1v-8zM615 522v7h1v-7zM616 529v6h1v-6zM617 527v5h1v-5zM618 529v7h1v-7zM619 530v6h1v-6zM620 525v5h1v-5zM621 529v6h1v-6zM622 512v17h1v-17zM623 500v18h1v-18zM624 518v18h1v-18zM625 527v8h1v-8zM626 531v4h1v-4zM631 529v7h1v-7zM632 521v8h1v-8zM633 529v7h1v-7zM634 528v7h1v-7zM635 521v7h1v-7zM636 524v7h1v-7zM637 530v5h1v-5zM639 530v6h1v-6zM640 525v6h1v-6zM641 522v3h1v-3zM642 521v8h1v-8zM643 529v7h1v-7zM645 530v6h1v-6zM646 526v5h1v-5zM647 526v10h1v-10zM654 534v2h1v-2zM656 520v16h1v-16zM657 504v16h1v-16zM658 506v15h1v-15zM659 521v15h1v-15zM660 523v6h1v-6zM661 525v11h1v-11zM667 529v6h1v-6zM668 523v8h1v-8zM669 530v5h1v-5zM671 530v6h1v-6zM672 525v6h1v-6zM673 530v6h1v-6zM674 528v8h1v-8zM675 521v7h1v-7zM676 522v13h1v-13zM677 529v6h1v-6zM678 523v6h1v-6zM679 525v6h1v-6zM680 530v5h1v-5zM685 530v5h1v-5zM686 525v6h1v-6zM687 524v7h1v-7zM688 530v5h1v-5zM689 524v7h1v-7zM690 521v10h1v-10zM691 530v6h1v-6zM693 530v6h1v-6zM694 527v4h1v-4zM695 527v4h1v-4zM696 530v5h1v-5zM697 534v2h1v-2zM702 529v6h1v-6zM703 523v6h1v-6zM704 522v7h1v-7zM705 510v26h1v-26zM706 509v8h1v-8zM707 517v8h1v-8zM708 524v7h1v-7zM709 530v5h1v-5zM713 530v5h1v-5zM714 525v6h1v-6zM716 524v2h1v-2zM717 523v8h1v-8zM718 530v6h1v-6zM719 522v14h1v-14zM720 524v7h1v-7zM721 529v6h1v-6zM722 524v5h1v-5zM723 526v6h1v-6zM724 532v4h1v-4zM726 528v7h1v-7zM727 525v7h1v-7zM728 519v8h1v-8zM729 527v8h1v-8zM731 526v10h1v-10zM732 516v10h1v-10zM733 521v5h1v-5zM734 525v11h1v-11zM735 528v7h1v-7zM736 522v7h1v-7zM737 529v6h1v-6zM739 530v5h1v-5zM740 526v5h1v-5zM741 529v6h1v-6zM742 524v7h1v-7zM743 530v5h1v-5zM745 530v6h1v-6zM746 525v6h1v-6zM747 518v7h1v-7zM748 512v24h1v-24zM751 530v6h1v-6zM752 527v4h1v-4zM753 530v5h1v-5zM755 527v9h1v-9zM756 530v5h1v-5zM759 530v6h1v-6zM760 527v4h1v-4zM761 527v5h1v-5zM762 532v4h1v-4zM765 515v21h1v-21zM766 495v20h1v-20zM767 510v21h1v-21zM768 530v6h1v-6zM769 526v5h1v-5zM770 526v6h1v-6zM771 532v4h1v-4zM777 530v6h1v-6zM778 524v7h1v-7zM779 520v8h1v-8zM780 528v7h1v-7zM784 534v2h1v-2zM786 530v6h1v-6zM787 526v5h1v-5zM788 528v4h1v-4zM789 532v4h1v-4zM796 530v6h1v-6zM797 525v6h1v-6zM798 523v3h1v-3zM799 521v14h1v-14zM800 525v10h1v-10zM801 516v10h1v-10zM802 526v9h1v-9zM807 529v7h1v-7zM808 522v7h1v-7zM809 525v6h1v-6zM810 530v5h1v-5zM813 522v13h1v-13zM814 523v2h1v-2zM815 522v3h1v-3zM816 525v2h1v-2zM817 525v6h1v-6zM818 528v7h1v-7zM819 522v7h1v-7zM820 529v7h1v-7zM821 529v7h1v-7zM822 522v7h1v-7zM823 529v7h1v-7zM824 528v8h1v-8zM825 521v8h1v-8zM826 529v7h1v-7zM827 525v10h1v-10zM828 530v5h1v-5zM834 524v12h1v-12zM835 513v15h1v-15zM836 527v4h1v-4zM837 530v5h1v-5zM838 530v5h1v-5zM839 527v4h1v-4zM840 529v3h1v-3zM841 532v3h1v-3zM842 526v9h1v-9zM843 527v5h1v-5zM844 532v4h1v-4zM845 529v7h1v-7zM846 523v7h1v-7zM847 525v10h1v-10zM848 515v10h1v-10zM849 519v17h1v-17zM850 528v7h1v-7zM851 521v7h1v-7zM852 523v7h1v-7zM853 529v6h1v-6zM854 524v11h1v-11zM855 514v11h1v-11zM856 525v11h1v-11zM858 522v13h1v-13zM859 509v14h1v-14zM860 523v13h1v-13zM861 528v7h1v-7zM862 522v6h1v-6zM863 524v6h1v-6zM864 529v6h1v-6zM865 514v16h1v-16zM866 504v10h1v-10zM867 506v15h1v-15zM868 521v14h1v-14zM869 526v5h1v-5zM870 531v4h1v-4zM871 527v9h1v-9zM872 532v4h1v-4zM876 529v6h1v-6zM877 525v5h1v-5zM878 529v6h1v-6zM880 528v7h1v-7zM881 521v9h1v-9zM882 529v7h1v-7zM885 528v8h1v-8zM886 522v6h1v-6zM887 526v4h1v-4zM888 529v5h1v-5zM889 526v10h1v-10zM890 516v10h1v-10zM891 519v9h1v-9zM892 528v7h1v-7zM893 522v14h1v-14zM894 529v7h1v-7zM895 523v7h1v-7zM896 523v4h1v-4zM897 519v4h1v-4zM898 521v2h1v-2zM899 519v3h1v-3zM900 522v13h1v-13zM910 529v7h1v-7zM911 525v5h1v-5zM912 527v5h1v-5zM913 532v3h1v-3zM914 534v2h1v-2zM919 531v5h1v-5zM920 527v4h1v-4zM921 529v6h1v-6zM923 529v6h1v-6zM924 526v5h1v-5zM925 531v5h1v-5zM927 529v7h1v-7zM928 524v6h1v-6zM929 524v3h1v-3zM930 526v5h1v-5zM931 531v4h1v-4zM932 529v7h1v-7zM933 523v7h1v-7zM934 529v6h1v-6zM936 526v9h1v-9zM938 526v5h1v-5zM939 531v4h1v-4zM940 529v6h1v-6zM941 523v7h1v-7zM942 526v2h1v-2zM943 527v6h1v-6zM944 533v3h1v-3zM945 529v6h1v-6zM946 526v4h1v-4zM947 528v4h1v-4zM948 532v4h1v-4zM950 522v13h1v-13zM952 522v8h1v-8zM953 529v6h1v-6zM961 526v9h1v-9zM962 518v8h1v-8zM963 521v9h1v-9zM964 529v6h1v-6zM965 528v7h1v-7zM966 521v7h1v-7zM967 524v6h1v-6zM968 526v9h1v-9zM969 518v8h1v-8zM970 517v9h1v-9zM971 526v9h1v-9zM972 514v22h1v-22zM973 525v10h1v-10zM979 534v2h1v-2zM986 529v6h1v-6zM987 525v10h1v-10zM993 531v5h1v-5zM994 527v9h1v-9zM995 519v8h1v-8zM996 521v7h1v-7zM997 528v7h1v-7zM1001 526v9h1v-9zM1002 531v4h1v-4zM1008 521v14h1v-14zM1009 528v7h1v-7zM1010 529v6h1v-6zM1011 524v6h1v-6zM1013 525v3h1v-3zM1014 528v5h1v-5zM1015 533v3h1v-3zM1018 527v9h1v-9zM1019 519v9h1v-9zM1020 528v8h1v-8zM1023 529v6h1v-6zM1024 523v7h1v-7zM1025 526v5h1v-5zM1026 531v4h1v-4zM1030 529v6h1v-6zM1031 523v7h1v-7zM1032 525v6h1v-6zM1033 531v4h1v-4zM1037 529v7h1v-7zM1038 525v5h1v-5zM1039 524v6h1v-6zM1040 529v6h1v-6zM1041 523v7h1v-7zM1042 528v8h1v-8zM1043 520v8h1v-8zM1044 523v12h1v-12zM1047 528v8h1v-8zM1048 521v7h1v-7zM1049 523v7h1v-7zM1050 530v6h1v-6zM1052 530v5h1v-5zM1053 524v6h1v-6zM1054 521v3h1v-3zM1055 521v2h1v-2zM1056 523v7h1v-7zM1057 530v6h1v-6zM1058 524v6h1v-6zM1059 523v12h1v-12zM1060 528v8h1v-8zM1061 520v9h1v-9zM1062 517v9h1v-9zM1063 526v9h1v-9zM1066 519v17h1v-17zM1067 502v17h1v-17zM1068 519v17h1v-17zM1069 528v4h1v-4zM1070 527v4h1v-4zM1071 531v4h1v-4zM1073 531v5h1v-5zM1074 527v4h1v-4zM1075 526v5h1v-5zM1076 531v4h1v-4zM1080 530v6h1v-6zM1081 524v6h1v-6zM1082 524v6h1v-6zM1083 528v7h1v-7zM1084 524v5h1v-5zM1085 527v5h1v-5zM1086 530v6h1v-6zM1087 525v5h1v-5zM1088 530v6h1v-6zM1092 525v10h1v-10zM1093 515v11h1v-11zM1094 526v10h1v-10zM1095 515v21h1v-21zM1096 515v5h1v-5zM1097 520v9h1v-9zM1098 528v7h1v-7zM1099 524v6h1v-6zM1100 530v6h1v-6zM1101 525v5h1v-5zM1102 527v9h1v-9zM1104 526v10h1v-10zM1105 516v10h1v-10zM1106 526v10h1v-10zM1108 528v7h1v-7zM1109 521v8h1v-8zM1110 528v7h1v-7zM1112 531v4h1v-4zM1113 528v4h1v-4zM1114 532v3h1v-3zM1117 534v2h1v-2zM1119 530v5h1v-5zM1120 524v6h1v-6zM1122 524v6h1v-6zM1123 530v5h1v-5zM1124 534v2h1v-2zM1125 525v10h1v-10zM1126 515v10h1v-10zM1127 519v6h1v-6zM1128 525v4h1v-4zM1129 527v4h1v-4zM1130 531v4h1v-4zM1131 528v8h1v-8zM1132 520v9h1v-9zM1133 521v8h1v-8zM1134 528v7h1v-7zM1135 524v6h1v-6zM1136 521v8h1v-8zM1137 528v7h1v-7zM1138 515v20h1v-20zM1139 517v3h1v-3zM1140 520v9h1v-9zM1141 528v8h1v-8zM1144 530v5h1v-5zM1145 525v5h1v-5zM1146 524v12h1v-12zM1147 531v5h1v-5zM1148 526v5h1v-5zM1149 528v4h1v-4zM1150 532v3h1v-3zM1153 534v2h1v-2zM1157 528v7h1v-7zM1158 521v8h1v-8zM1159 528v7h1v-7zM1160 527v5h1v-5zM1161 532v4h1v-4zM1162 528v8h1v-8zM1163 521v8h1v-8zM1164 521v8h1v-8zM1165 528v7h1v-7zM1167 528v8h1v-8zM1168 522v7h1v-7zM1169 528v7h1v-7zM1173 528v8h1v-8zM1174 521v8h1v-8zM1175 524v12h1v-12zM1176 512v12h1v-12zM1177 515v3h1v-3zM1179 518v2h1v-2zM1180 520v2h1v-2zM1181 522v7h1v-7zM1182 528v7h1v-7zM1183 526v10h1v-10zM1184 517v9h1v-9zM1185 520v9h1v-9zM1186 528v8h1v-8zM1187 528v8h1v-8zM1188 522v7h1v-7zM1189 527v9h1v-9zM1190 527v4h1v-4zM1191 531v4h1v-4zM1193 530v5h1v-5zM1194 525v5h1v-5zM1195 522v3h1v-3zM1196 516v6h1v-6zM1197 519v10h1v-10zM1198 528v8h1v-8zM1200 524v12h1v-12zM1201 512v12h1v-12zM1202 516v11h1v-11zM1203 527v9h1v-9zM1204 528v7h1v-7zM1205 523v6h1v-6zM1206 524v5h1v-5zM1207 515v9h1v-9zM1208 509v6h1v-6zM1209 512v13h1v-13zM1210 525v10h1v-10zM1211 534v2h1v-2zM1212 528v7h1v-7zM1213 524v5h1v-5zM1214 523v7h1v-7zM1215 530v6h1v-6zM1217 527v8h1v-8zM1218 520v16h1v-16zM1221 528v7h1v-7zM1222 524v5h1v-5zM1223 524v6h1v-6zM1224 530v6h1v-6zM1225 534v2h1v-2zM1227 530v6h1v-6zM1228 525v5h1v-5zM1229 525v5h1v-5zM1230 530v5h1v-5zM1233 528v7h1v-7zM1234 521v8h1v-8zM1235 523v3h1v-3zM1236 526v3h1v-3zM1237 528v4h1v-4zM1238 532v4h1v-4zM1243 531v5h1v-5zM1244 525v6h1v-6zM1245 523v3h1v-3zM1246 526v3h1v-3zM1247 525v5h1v-5zM1248 530v5h1v-5zM1250 530v5h1v-5zM1251 525v5h1v-5zM1252 525v5h1v-5zM1253 530v5h1v-5zM1254 522v13h1v-13zM1256 524v6h1v-6zM1257 527v9h1v-9zM1258 518v9h1v-9zM1259 527v9h1v-9zM1260 528v7h1v-7zM1261 522v6h1v-6zM1262 523v3h1v-3zM1263 521v2h1v-2zM1264 523v5h1v-5zM1265 527v5h1v-5zM1266 532v4h1v-4zM1268 531v4h1v-4zM1269 527v4h1v-4zM1270 529v4h1v-4zM1271 530v6h1v-6zM1272 524v6h1v-6zM1273 527v8h1v-8zM1274 519v9h1v-9zM1275 523v8h1v-8zM1276 515v21h1v-21zM1277 519v9h1v-9zM1278 527v8h1v-8zM1279 524v5h1v-5zM1280 525v5h1v-5zM1281 523v12h1v-12zM1282 512v11h1v-11zM1283 513v15h1v-15zM1284 525v5h1v-5zM1285 529v6h1v-6zM1286 524v5h1v-5zM1287 527v5h1v-5zM1288 530v6h1v-6zM1289 514v16h1v-16zM1290 502v33h1v-33zM1296 519v17h1v-17zM1297 502v34h1v-34zM1298 523v7h1v-7zM1299 530v6h1v-6zM1302 526v9h1v-9zM1303 518v8h1v-8zM1304 521v8h1v-8zM1305 529v6h1v-6zM1306 531v4h1v-4zM1307 527v4h1v-4zM1308 529v3h1v-3zM1309 527v8h1v-8zM1310 519v9h1v-9zM1311 520v8h1v-8zM1312 520v15h1v-15zM1313 527v9h1v-9zM1314 527v8h1v-8zM1315 521v7h1v-7zM1316 520v8h1v-8zM1317 527v8h1v-8zM1319 527v9h1v-9zM1320 527v4h1v-4zM1321 524v4h1v-4zM1322 527v5h1v-5zM1323 532v4h1v-4zM1326 523v12h1v-12zM1327 525v6h1v-6zM1328 522v13h1v-13zM1329 506v16h1v-16zM1330 502v17h1v-17zM1331 519v17h1v-17zM1333 529v6h1v-6zM1334 524v6h1v-6zM1335 530v5h1v-5zM1336 526v4h1v-4zM1338 527v5h1v-5zM1339 532v3h1v-3zM1340 531v5h1v-5zM1341 527v5h1v-5zM1342 532v4h1v-4zM1345 529v6h1v-6zM1346 523v7h1v-7zM1347 527v9h1v-9zM1348 521v15h1v-15zM1350 530v6h1v-6zM1351 525v5h1v-5zM1352 525v5h1v-5zM1353 527v8h1v-8zM1354 522v6h1v-6zM1355 525v11h1v-11zM1358 527v9h1v-9zM1359 521v7h1v-7zM1360 520v8h1v-8zM1361 527v8h1v-8zM1362 527v9h1v-9zM1363 520v8h1v-8zM1364 527v9h1v-9zM1365 521v7h1v-7zM1366 525v3h1v-3zM1178 517h1v1h-1zM951 521h1v1h-1zM1121 523h1v1h-1zM1255 523h1v1h-1zM121 524h1v1h-1zM937 525h1v1h-1zM715 526h1v1h-1zM1012 526h1v1h-1zM563 527h1v1h-1zM1262 527h2v1h-2zM1266 527h3v1h-3zM1270 527h2v1h-2zM1282 527h1v1h-1zM1285 527h1v1h-1zM1288 527h1v1h-1zM1291 527h5v1h-5zM1299 527h3v1h-3zM1303 527h1v1h-1zM1305 527h2v1h-2zM1308 527h1v1h-1zM1318 527h1v1h-1zM1323 527h3v1h-3zM1329 527h2v1h-2zM1332 527h2v1h-2zM1335 527h1v1h-1zM1337 527h1v1h-1zM1339 527h2v1h-2zM1342 527h4v1h-4zM1349 527h2v1h-2zM1356 527h2v1h-2zM1050 528h3v1h-3zM1054 528h2v1h-2zM1057 528h1v1h-1zM1062 528h1v1h-1zM1064 528h2v1h-2zM1067 528h1v1h-1zM1071 528h3v1h-3zM1076 528h5v1h-5zM1086 528h1v1h-1zM1088 528h4v1h-4zM1093 528h1v1h-1zM1096 528h1v1h-1zM1100 528h1v1h-1zM1103 528h1v1h-1zM1105 528h1v1h-1zM1107 528h1v1h-1zM1111 528h2v1h-2zM1114 528h6v1h-6zM1121 528h1v1h-1zM1123 528h2v1h-2zM1126 528h2v1h-2zM1130 528h1v1h-1zM1139 528h1v1h-1zM1142 528h3v1h-3zM1147 528h1v1h-1zM1150 528h7v1h-7zM1161 528h1v1h-1zM1166 528h1v1h-1zM1170 528h3v1h-3zM1176 528h5v1h-5zM1184 528h1v1h-1zM1191 528h3v1h-3zM1195 528h2v1h-2zM1199 528h1v1h-1zM1201 528h2v1h-2zM1207 528h3v1h-3zM1211 528h1v1h-1zM1215 528h2v1h-2zM1219 528h2v1h-2zM1224 528h4v1h-4zM1230 528h3v1h-3zM1235 528h1v1h-1zM1238 528h6v1h-6zM1245 528h1v1h-1zM1248 528h3v1h-3zM1253 528h1v1h-1zM1255 528h1v1h-1zM1258 528h1v1h-1zM841 529h1v1h-1zM844 529h1v1h-1zM848 529h1v1h-1zM851 529h1v1h-1zM855 529h1v1h-1zM857 529h1v1h-1zM859 529h1v1h-1zM862 529h1v1h-1zM866 529h2v1h-2zM870 529h1v1h-1zM872 529h4v1h-4zM879 529h1v1h-1zM883 529h2v1h-2zM886 529h1v1h-1zM890 529h2v1h-2zM896 529h4v1h-4zM901 529h9v1h-9zM913 529h7v1h-7zM922 529h1v1h-1zM925 529h2v1h-2zM929 529h1v1h-1zM931 529h1v1h-1zM935 529h1v1h-1zM937 529h1v1h-1zM939 529h1v1h-1zM942 529h1v1h-1zM944 529h1v1h-1zM948 529h2v1h-2zM951 529h1v1h-1zM954 529h7v1h-7zM962 529h1v1h-1zM966 529h1v1h-1zM969 529h2v1h-2zM974 529h12v1h-12zM988 529h6v1h-6zM995 529h2v1h-2zM998 529h3v1h-3zM1002 529h6v1h-6zM1012 529h2v1h-2zM1015 529h3v1h-3zM1019 529h1v1h-1zM1021 529h2v1h-2zM1026 529h4v1h-4zM1033 529h4v1h-4zM1043 529h1v1h-1zM1045 529h2v1h-2zM1048 529h1v1h-1zM629 530h2v1h-2zM632 530h1v1h-1zM635 530h1v1h-1zM638 530h1v1h-1zM641 530h2v1h-2zM644 530h1v1h-1zM648 530h8v1h-8zM657 530h2v1h-2zM660 530h1v1h-1zM662 530h5v1h-5zM670 530h1v1h-1zM675 530h1v1h-1zM678 530h1v1h-1zM681 530h4v1h-4zM692 530h1v1h-1zM697 530h5v1h-5zM703 530h2v1h-2zM706 530h2v1h-2zM710 530h3v1h-3zM715 530h2v1h-2zM722 530h1v1h-1zM724 530h2v1h-2zM728 530h1v1h-1zM730 530h1v1h-1zM732 530h2v1h-2zM736 530h1v1h-1zM738 530h1v1h-1zM744 530h1v1h-1zM747 530h1v1h-1zM749 530h2v1h-2zM754 530h1v1h-1zM757 530h2v1h-2zM762 530h3v1h-3zM766 530h1v1h-1zM771 530h6v1h-6zM779 530h1v1h-1zM781 530h5v1h-5zM789 530h7v1h-7zM798 530h1v1h-1zM801 530h1v1h-1zM803 530h4v1h-4zM808 530h1v1h-1zM811 530h2v1h-2zM814 530h3v1h-3zM819 530h1v1h-1zM822 530h1v1h-1zM825 530h1v1h-1zM829 530h5v1h-5zM835 530h1v1h-1zM418 531h8v1h-8zM427 531h1v1h-1zM429 531h1v1h-1zM431 531h6v1h-6zM439 531h1v1h-1zM441 531h1v1h-1zM445 531h5v1h-5zM451 531h1v1h-1zM453 531h2v1h-2zM456 531h1v1h-1zM460 531h1v1h-1zM462 531h1v1h-1zM464 531h4v1h-4zM469 531h1v1h-1zM471 531h2v1h-2zM474 531h3v1h-3zM478 531h2v1h-2zM481 531h3v1h-3zM485 531h1v1h-1zM487 531h1v1h-1zM489 531h2v1h-2zM493 531h1v1h-1zM498 531h3v1h-3zM502 531h3v1h-3zM506 531h1v1h-1zM511 531h1v1h-1zM513 531h8v1h-8zM522 531h2v1h-2zM526 531h1v1h-1zM529 531h2v1h-2zM533 531h4v1h-4zM540 531h2v1h-2zM543 531h2v1h-2zM546 531h4v1h-4zM551 531h1v1h-1zM554 531h1v1h-1zM556 531h1v1h-1zM558 531h3v1h-3zM563 531h1v1h-1zM569 531h2v1h-2zM575 531h1v1h-1zM579 531h2v1h-2zM584 531h3v1h-3zM590 531h1v1h-1zM593 531h2v1h-2zM597 531h2v1h-2zM602 531h1v1h-1zM604 531h7v1h-7zM612 531h1v1h-1zM615 531h1v1h-1zM620 531h1v1h-1zM622 531h2v1h-2zM627 531h2v1h-2zM207 532h4v1h-4zM212 532h1v1h-1zM215 532h1v1h-1zM217 532h2v1h-2zM220 532h2v1h-2zM223 532h3v1h-3zM230 532h3v1h-3zM235 532h2v1h-2zM239 532h2v1h-2zM242 532h2v1h-2zM246 532h2v1h-2zM251 532h2v1h-2zM254 532h1v1h-1zM257 532h1v1h-1zM259 532h2v1h-2zM263 532h1v1h-1zM265 532h2v1h-2zM268 532h4v1h-4zM273 532h1v1h-1zM276 532h2v1h-2zM279 532h2v1h-2zM282 532h2v1h-2zM285 532h1v1h-1zM287 532h3v1h-3zM291 532h1v1h-1zM293 532h1v1h-1zM295 532h5v1h-5zM301 532h2v1h-2zM305 532h2v1h-2zM308 532h2v1h-2zM311 532h1v1h-1zM313 532h3v1h-3zM317 532h4v1h-4zM323 532h1v1h-1zM325 532h1v1h-1zM327 532h1v1h-1zM330 532h1v1h-1zM332 532h3v1h-3zM337 532h1v1h-1zM339 532h7v1h-7zM349 532h1v1h-1zM351 532h1v1h-1zM354 532h4v1h-4zM359 532h2v1h-2zM362 532h1v1h-1zM364 532h2v1h-2zM367 532h1v1h-1zM370 532h2v1h-2zM373 532h1v1h-1zM375 532h1v1h-1zM377 532h3v1h-3zM381 532h2v1h-2zM385 532h2v1h-2zM389 532h3v1h-3zM393 532h1v1h-1zM395 532h1v1h-1zM397 532h1v1h-1zM399 532h2v1h-2zM403 532h1v1h-1zM405 532h1v1h-1zM407 532h1v1h-1zM409 532h9v1h-9zM102 533h7v1h-7zM110 533h1v1h-1zM114 533h1v1h-1zM116 533h2v1h-2zM119 533h5v1h-5zM127 533h1v1h-1zM129 533h1v1h-1zM132 533h2v1h-2zM135 533h2v1h-2zM138 533h2v1h-2zM141 533h1v1h-1zM143 533h1v1h-1zM145 533h62v1h-62zM208 534h1v1h-1zM210 534h1v1h-1zM217 534h2v1h-2zM223 534h2v1h-2zM268 534h1v1h-1zM270 534h2v1h-2zM280 534h1v1h-1zM295 534h1v1h-1zM298 534h1v1h-1zM313 534h1v1h-1zM340 534h2v1h-2zM344 534h1v1h-1zM349 534h1v1h-1zM364 534h1v1h-1zM377 534h2v1h-2zM393 534h1v1h-1zM403 534h1v1h-1zM409 534h4v1h-4zM415 534h2v1h-2zM418 534h1v1h-1zM421 534h2v1h-2zM424 534h2v1h-2zM434 534h1v1h-1zM445 534h1v1h-1zM447 534h3v1h-3zM453 534h2v1h-2zM475 534h2v1h-2zM481 534h3v1h-3zM487 534h1v1h-1zM503 534h2v1h-2zM514 534h3v1h-3zM520 534h1v1h-1zM529 534h1v1h-1zM533 534h1v1h-1zM535 534h1v1h-1zM547 534h1v1h-1zM549 534h1v1h-1zM559 534h2v1h-2zM604 534h1v1h-1zM607 534h1v1h-1zM609 534h2v1h-2zM630 534h1v1h-1zM638 534h1v1h-1zM644 534h1v1h-1zM648 534h3v1h-3zM652 534h1v1h-1zM655 534h1v1h-1zM662 534h2v1h-2zM666 534h1v1h-1zM670 534h1v1h-1zM682 534h2v1h-2zM692 534h1v1h-1zM698 534h3v1h-3zM710 534h1v1h-1zM725 534h1v1h-1zM730 534h1v1h-1zM749 534h1v1h-1zM754 534h1v1h-1zM763 534h2v1h-2zM772 534h2v1h-2zM781 534h1v1h-1zM791 534h1v1h-1zM793 534h3v1h-3zM803 534h2v1h-2zM811 534h1v1h-1zM829 534h1v1h-1zM832 534h2v1h-2zM874 534h2v1h-2zM879 534h1v1h-1zM883 534h1v1h-1zM902 534h1v1h-1zM904 534h1v1h-1zM906 534h4v1h-4zM918 534h1v1h-1zM935 534h1v1h-1zM949 534h1v1h-1zM957 534h2v1h-2zM974 534h1v1h-1zM976 534h3v1h-3zM983 534h1v1h-1zM985 534h1v1h-1zM989 534h2v1h-2zM1000 534h1v1h-1zM1004 534h1v1h-1zM1006 534h2v1h-2zM1016 534h2v1h-2zM1021 534h1v1h-1zM1034 534h3v1h-3zM1045 534h2v1h-2zM1051 534h1v1h-1zM1065 534h1v1h-1zM1072 534h1v1h-1zM1078 534h2v1h-2zM1103 534h1v1h-1zM1107 534h1v1h-1zM1111 534h1v1h-1zM1115 534h2v1h-2zM1118 534h1v1h-1zM1142 534h1v1h-1zM1152 534h1v1h-1zM1155 534h1v1h-1zM1166 534h1v1h-1zM1172 534h1v1h-1zM1192 534h1v1h-1zM1199 534h1v1h-1zM1220 534h1v1h-1zM1226 534h1v1h-1zM1231 534h2v1h-2zM1241 534h2v1h-2zM1249 534h1v1h-1zM1291 534h1v1h-1zM1293 534h3v1h-3zM1325 534h1v1h-1zM1344 534h1v1h-1zM1349 534h1v1h-1zM1356 534h2v1h-2zM110 535h1v1h-1zM114 535h1v1h-1zM135 535h2v1h-2zM141 535h1v1h-1zM209 535h1v1h-1zM225 535h1v1h-1zM246 535h2v1h-2zM254 535h1v1h-1zM257 535h1v1h-1zM269 535h1v1h-1zM279 535h1v1h-1zM285 535h1v1h-1zM296 535h2v1h-2zM299 535h1v1h-1zM309 535h1v1h-1zM314 535h2v1h-2zM327 535h1v1h-1zM330 535h1v1h-1zM339 535h1v1h-1zM342 535h1v1h-1zM345 535h1v1h-1zM373 535h1v1h-1zM379 535h1v1h-1zM399 535h2v1h-2zM413 535h2v1h-2zM417 535h1v1h-1zM419 535h2v1h-2zM431 535h3v1h-3zM435 535h2v1h-2zM446 535h1v1h-1zM462 535h1v1h-1zM469 535h1v1h-1zM474 535h1v1h-1zM513 535h1v1h-1zM518 535h2v1h-2zM530 535h1v1h-1zM534 535h1v1h-1zM536 535h1v1h-1zM548 535h1v1h-1zM554 535h1v1h-1zM558 535h1v1h-1zM605 535h2v1h-2zM608 535h1v1h-1zM627 535h3v1h-3zM651 535h1v1h-1zM653 535h1v1h-1zM664 535h2v1h-2zM681 535h1v1h-1zM684 535h1v1h-1zM701 535h1v1h-1zM711 535h2v1h-2zM738 535h1v1h-1zM744 535h1v1h-1zM750 535h1v1h-1zM757 535h2v1h-2zM774 535h3v1h-3zM782 535h2v1h-2zM785 535h1v1h-1zM790 535h1v1h-1zM792 535h1v1h-1zM805 535h2v1h-2zM812 535h1v1h-1zM830 535h2v1h-2zM857 535h1v1h-1zM873 535h1v1h-1zM884 535h1v1h-1zM901 535h1v1h-1zM903 535h1v1h-1zM905 535h1v1h-1zM915 535h3v1h-3zM922 535h1v1h-1zM926 535h1v1h-1zM954 535h3v1h-3zM959 535h2v1h-2zM975 535h1v1h-1zM980 535h3v1h-3zM984 535h1v1h-1zM988 535h1v1h-1zM991 535h2v1h-2zM998 535h2v1h-2zM1003 535h1v1h-1zM1005 535h1v1h-1zM1022 535h1v1h-1zM1027 535h3v1h-3zM1064 535h1v1h-1zM1077 535h1v1h-1zM1089 535h3v1h-3zM1143 535h1v1h-1zM1151 535h1v1h-1zM1154 535h1v1h-1zM1156 535h1v1h-1zM1170 535h2v1h-2zM1216 535h1v1h-1zM1219 535h1v1h-1zM1239 535h2v1h-2zM1267 535h1v1h-1zM1292 535h1v1h-1zM1300 535h2v1h-2zM1318 535h1v1h-1zM1324 535h1v1h-1zM1332 535h1v1h-1zM1343 535h1v1h-1z" fill="#0080ff"/>
<use href="#sq" x="206" y="433" fill="#c000ff"/>
<use href="#sf" x="206" y="487" fill="#00eeee"/>
<use href="#sf" x="748" y="487" fill="#00eeee"/>
<use href="#sf" x="1189" y="487" fill="#00eeee"/>
<use href="#sf" x="1211" y="487" fill="#00eeee"/>
<use href="#sf" x="1326" y="487" fill="#00eeee"/>
<use href="#oc" x="103" y="491" fill="#c04000"/>
<use href="#oc" x="149" y="495" fill="#c04000"/>
<use href="#oc" x="208" y="502" fill="#c04000"/>
<use href="#oc" x="255" y="304" fill="#c04000"/>
<use href="#oc" x="261" y="502" fill="#c04000"/>
<use href="#oc" x="307" y="494" fill="#c04000"/>
<use href="#oc" x="314" y="494" fill="#c04000"/>
<use href="#oc" x="360" y="495" fill="#c04000"/>
<use href="#oc" x="366" y="503" fill="#c04000"/>
<use href="#oc" x="413" y="495" fill="#c04000"/>
<use href="#oc" x="419" y="499" fill="#c04000"/>
<use href="#oc" x="466" y="493" fill="#c04000"/>
<use href="#oc" x="472" y="493" fill="#c04000"/>
<use href="#oc" x="518" y="497" fill="#c04000"/>
<use href="#oc" x="524" y="504" fill="#c04000"/>
<use href="#oc" x="571" y="495" fill="#c04000"/>
<use href="#oc" x="577" y="494" fill="#c04000"/>
<use href="#oc" x="624" y="490" fill="#c04000"/>
<use href="#oc" x="630" y="489" fill="#c04000"/>
<use href="#oc" x="676" y="495" fill="#c04000"/>
<use href="#oc" x="683" y="373" fill="#c04000"/>
<use href="#oc" x="729" y="477" fill="#c04000"/>
<use href="#oc" x="735" y="482" fill="#c04000"/>
<use href="#oc" x="782" y="473" fill="#c04000"/>
<use href="#oc" x="788" y="482" fill="#c04000"/>
<use href="#oc" x="835" y="480" fill="#c04000"/>
<use href="#oc" x="841" y="449" fill="#c04000"/>
<use href="#oc" x="887" y="450" fill="#c04000"/>
<use href="#oc" x="893" y="440" fill="#c04000"/>
<use href="#oc" x="940" y="454" fill="#c04000"/>
<use href="#oc" x="946" y="444" fill="#c04000"/>
<use href="#oc" x="993" y="441" fill="#c04000"/>
<use href="#oc" x="999" y="451" fill="#c04000"/>
<use href="#oc" x="1045" y="449" fill="#c04000"/>
<use href="#oc" x="1052" y="432" fill="#c04000"/>
<use href="#oc" x="1098" y="447" fill="#c04000"/>
<use href="#oc" x="1104" y="427" fill="#c04000"/>
<use href="#oc" x="1151" y="470" fill="#c04000"/>
<use href="#oc" x="1157" y="465" fill="#c04000"/>
<use href="#oc" x="1203" y="459" fill="#c04000"/>
<use href="#oc" x="1210" y="465" fill="#c04000"/>
<use href="#oc" x="1256" y="423" fill="#c04000"/>
<use href="#oc" x="1262" y="468" fill="#c04000"/>
<use href="#oc" x="1309" y="469" fill="#c04000"/>
<use href="#oc" x="1315" y="478" fill="#c04000"/>
<use href="#oc" x="1362" y="494" fill="#c04000"/>
<use href="#fc" x="103" y="533" fill="#c8c800"/>
<use href="#fc" x="149" y="532" fill="#c8c800"/>
<use href="#fc" x="208" y="528" fill="#c8c800"/>
<use href="#fc" x="255" y="532" fill="#c8c800"/>
<use href="#fc" x="261" y="532" fill="#c8c800"/>
<use href="#fc" x="307" y="532" fill="#c8c800"/>
<use href="#fc" x="314" y="533" fill="#c8c800"/>
<use href="#fc" x="360" y="533" fill="#c8c800"/>
<use href="#fc" x="366" y="533" fill="#c8c800"/>
<use href="#fc" x="413" y="533" fill="#c8c800"/>
<use href="#fc" x="419" y="534" fill="#c8c800"/>
<use href="#fc" x="466" y="531" fill="#c8c800"/>
<use href="#fc" x="472" y="534" fill="#c8c800"/>
<use href="#fc" x="518" y="531" fill="#c8c800"/>
<use href="#fc" x="524" y="525" fill="#c8c800"/>
<use href="#fc" x="571" y="532" fill="#c8c800"/>
<use href="#fc" x="577" y="532" fill="#c8c800"/>
<use href="#fc" x="624" y="533" fill="#c8c800"/>
<use href="#fc" x="630" y="533" fill="#c8c800"/>
<use href="#fc" x="676" y="532" fill="#c8c800"/>
<use href="#fc" x="683" y="532" fill="#c8c800"/>
<use href="#fc" x="729" y="533" fill="#c8c800"/>
<use href="#fc" x="735" y="533" fill="#c8c800"/>
<use href="#fc" x="782" y="533" fill="#c8c800"/>
<use href="#fc" x="788" y="533" fill="#c8c800"/>
<use href="#fc" x="835" y="532" fill="#c8c800"/>
<use href="#fc" x="841" y="532" fill="#c8c800"/>
<use href="#fc" x="887" y="532" fill="#c8c800"/>
<use href="#fc" x="893" y="532" fill="#c8c800"/>
<use href="#fc" x="940" y="531" fill="#c8c800"/>
<use href="#fc" x="946" y="533" fill="#c8c800"/>
<use href="#fc" x="993" y="532" fill="#c8c800"/>
<use href="#fc" x="999" y="532" fill="#c8c800"/>
<use href="#fc" x="1045" y="533" fill="#c8c800"/>
<use href="#fc" x="1052" y="527" fill="#c8c800"/>
<use href="#fc" x="1098" y="532" fill="#c8c800"/>
<use href="#fc" x="1104" y="532" fill="#c8c800"/>
<use href="#fc" x="1151" y="532" fill="#c8c800"/>
<use href="#fc" x="1157" y="532" fill="#c8c800"/>
<use href="#fc" x="1203" y="525" fill="#c8c800"/>
<use href="#fc" x="1210" y="531" fill="#c8c800"/>
<use href="#fc" x="1256" y="529" fill="#c8c800"/>
<use href="#fc" x="1262" y="533" fill="#c8c800"/>
<use href="#fc" x="1309" y="532" fill="#c8c800"/>
<use href="#fc" x="1315" y="532" fill="#c8c800"/>
<use href="#fc" x="1362" y="532" fill="#c8c800"/>
<use href="#tu" x="108" y="464" fill="#4169e1"/>
<use href="#tu" x="117" y="464" fill="#4169e1"/>
<use href="#tu" x="125" y="464" fill="#4169e1"/>
<use href="#tu" x="133" y="464" fill="#4169e1"/>
<use href="#tu" x="141" y="464" fill="#4169e1"/>
<use href="#tu" x="148" y="464" fill="#4169e1"/>
<use href="#tu" x="206" y="464" fill="#4169e1"/>
<use href="#tu" x="394" y="464" fill="#4169e1"/>
<use href="#tu" x="675" y="464" fill="#4169e1"/>
<use href="#tu" x="959" y="464" fill="#4169e1"/>
<use href="#tu" x="1107" y="464" fill="#4169e1"/>
<use href="#tf" x="206" y="410" fill="#ffc020"/>
<use href="#pl" x="206" y="371" fill="#008040"/>
<use href="#td" x="206" y="332" fill="#c080ff"/>
<use href="#td" x="206" y="351" fill="#306080"/>
<polygon class="c" points="93,350 163,350 155,363 101,363" fill="#306080"/>
<polygon class="c" points="199,350 1375,350 1367,363 207,363" fill="#306080"/>
<rect class="c" x="1288" y="72" width="57" height="1" fill="#ff0000"/>
<rect class="c" x="1288" y="91" width="57" height="1" fill="#00c000"/>
<rect class="c" x="1288" y="110" width="57" height="1" fill="#0080ff"/>
<use href="#sq" x="1316" y="129" fill="#c000ff"/>
<use href="#sf" x="1316" y="148" fill="#00eeee"/>
<use href="#oc" x="1316" y="167" fill="#c04000"/>
<use href="#fc" x="1316" y="186" fill="#c8c800"/>
<use href="#tu" x="1316" y="205" fill="#4169e1"/>
<use href="#tf" x="1316" y="224" fill="#ffc020"/>
<use href="#pl" x="1316" y="243" fill="#008040"/>
<use href="#td" x="1316" y="262" fill="#c080ff"/>
<use href="#td" x="1316" y="281" fill="#306080"/>
<path class="c" d="M101 57h1266v1h-1266zM101 539h1266v1h-1266zM101 57h1v483h-1zM1366 57h1v483h-1z" fill="#000"/>
</svg></body></html>
